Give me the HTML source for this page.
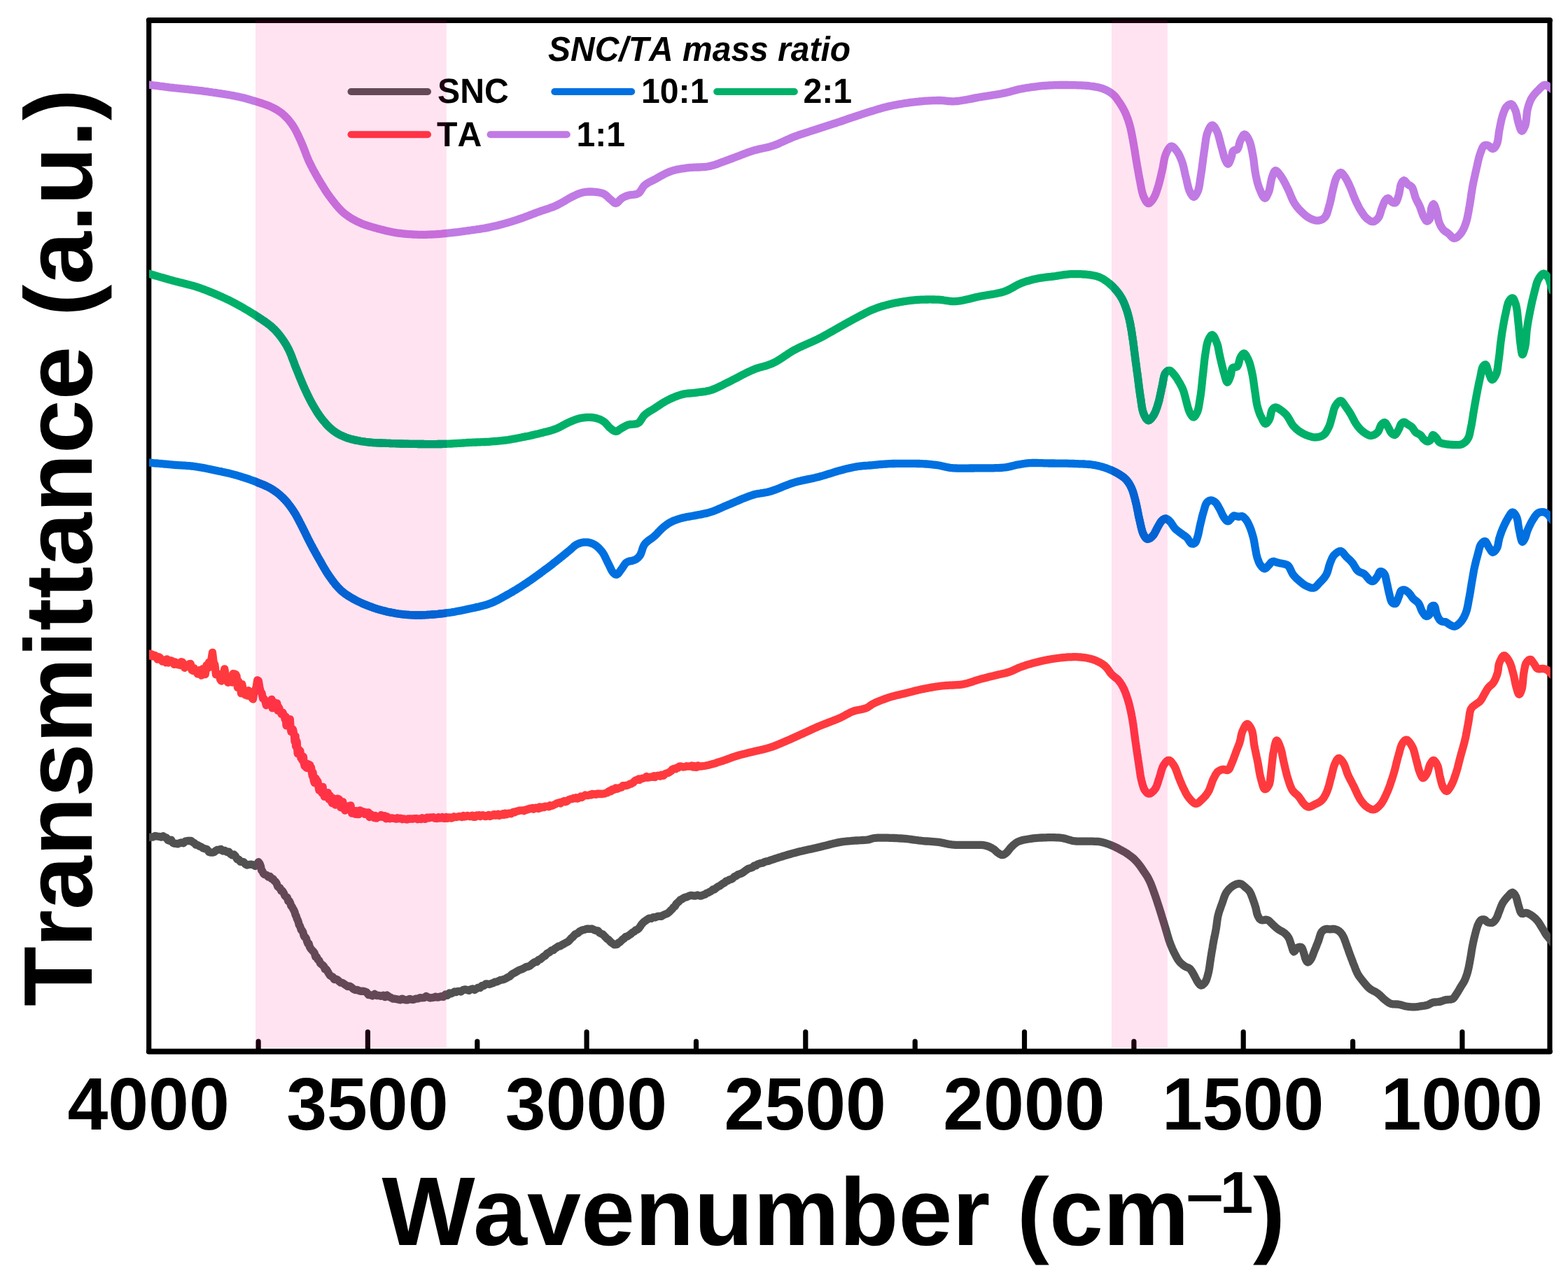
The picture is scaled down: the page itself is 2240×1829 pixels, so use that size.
<!DOCTYPE html>
<html lang="en"><head><meta charset="utf-8"><title>FTIR spectra</title>
<style>html,body{margin:0;padding:0;background:#fff}body{width:2240px;height:1829px;overflow:hidden}</style></head>
<body>
<svg width="2240" height="1829" viewBox="0 0 2240 1829" style="display:block">
<rect width="2240" height="1829" fill="#fff"/>
<defs><clipPath id="pc"><rect x="213.0" y="29.0" width="2001.9" height="1473.5"/></clipPath></defs>
<path d="M212.7 1502.5V29.0M2214.0 29.0V1502.5" fill="none" stroke="#000" stroke-width="7.2" stroke-linecap="round"/>
<path d="M212.7 29.0H2214.0M212.7 1502.5H2214.0" fill="none" stroke="#000" stroke-width="7.9" stroke-linecap="round"/>
<path d="M2088.9 1502.5 V1474.5M1932.6 1502.5 V1488.2M1776.2 1502.5 V1474.5M1619.9 1502.5 V1488.2M1463.5 1502.5 V1474.5M1307.2 1502.5 V1488.2M1150.8 1502.5 V1474.5M994.5 1502.5 V1488.2M838.1 1502.5 V1474.5M681.8 1502.5 V1488.2M525.4 1502.5 V1474.5M369.1 1502.5 V1488.2" stroke="#000" stroke-width="7.2" stroke-linecap="round" fill="none"/>
<g clip-path="url(#pc)" fill="none" stroke-linejoin="round" stroke-linecap="round" stroke-width="11.3">
<g stroke="#515151"><path id="c-gray" d="M205.0 1196.4L206.3 1196.8L209.4 1197.9L212.9 1196.3L215.5 1196.2L218.4 1196.1L221.6 1194.4L224.8 1195.1L227.8 1195.4L230.6 1196.2L233.1 1194.7L235.4 1196.4L237.7 1197.0L239.9 1200.6L242.3 1201.3L244.6 1200.2L246.9 1204.4L249.2 1205.4L251.6 1205.3L254.0 1205.9L256.4 1204.8L259.2 1204.0L262.1 1204.7L264.9 1202.0L267.8 1201.5L270.6 1201.5L273.0 1201.3L275.3 1203.5L277.6 1204.6L279.9 1207.2L282.2 1207.5L284.7 1209.1L287.3 1210.0L290.0 1211.9L292.9 1212.8L295.7 1213.7L298.5 1217.3L301.1 1218.2L303.5 1218.2L306.0 1217.6L308.3 1215.5L310.5 1214.4L312.9 1214.1L315.6 1213.5L318.4 1216.0L321.3 1215.4L324.2 1217.6L327.0 1217.2L329.5 1220.4L331.8 1221.8L334.2 1221.0L336.5 1223.6L338.8 1227.8L341.1 1228.1L343.5 1231.4L345.8 1231.2L348.1 1231.7L350.5 1234.8L352.9 1236.2L355.9 1235.3L359.1 1235.1L362.1 1235.9L364.6 1237.5L367.2 1234.9L369.3 1231.7L370.5 1233.2L371.5 1235.1L372.5 1238.0L373.6 1243.7L374.9 1244.8L376.4 1248.4L378.4 1249.8L380.8 1250.2L383.3 1253.1L385.8 1252.4L388.1 1255.7L389.9 1255.6L391.7 1258.5L393.4 1259.8L395.0 1262.1L396.7 1266.6L398.4 1268.2L400.0 1268.8L401.7 1272.9L403.5 1273.0L405.2 1275.9L406.9 1279.7L408.6 1281.4L410.2 1282.1L411.7 1287.4L413.2 1287.4L414.6 1290.2L415.9 1294.5L417.2 1295.7L418.5 1298.3L419.7 1300.4L421.0 1303.3L422.1 1307.4L423.1 1308.8L424.2 1312.6L425.2 1314.5L426.3 1317.5L427.3 1321.8L428.3 1322.9L429.4 1325.7L430.5 1329.2L431.6 1329.5L432.8 1331.8L434.0 1336.7L435.1 1338.8L436.3 1339.3L437.5 1341.4L438.7 1345.5L439.9 1348.4L441.2 1348.5L442.5 1353.2L443.8 1355.4L445.1 1356.8L446.5 1358.5L447.9 1359.8L449.3 1361.9L450.8 1367.3L452.4 1367.3L454.1 1371.2L455.7 1372.1L457.5 1376.3L459.2 1377.9L461.0 1379.2L462.7 1381.0L464.3 1384.9L466.0 1385.0L467.8 1387.7L469.5 1390.8L471.4 1393.8L473.3 1395.0L475.2 1395.7L477.4 1399.5L479.6 1398.9L481.9 1399.9L484.3 1402.2L486.7 1404.2L489.1 1404.3L491.6 1406.0L494.2 1407.8L496.8 1409.5L499.5 1409.1L502.2 1410.8L505.0 1413.4L507.7 1414.6L510.4 1414.5L513.1 1415.7L515.7 1416.4L518.4 1416.1L521.0 1416.8L523.7 1417.8L526.5 1421.6L529.3 1421.6L532.1 1423.0L535.1 1420.4L538.2 1422.6L541.2 1422.3L544.3 1423.3L547.3 1422.2L550.1 1424.6L552.8 1422.0L555.8 1424.2L558.6 1425.6L561.2 1427.0L563.9 1427.2L566.9 1427.7L569.3 1428.2L571.8 1428.8L574.4 1427.1L577.1 1428.2L579.8 1428.9L582.5 1428.8L585.3 1427.3L588.0 1428.3L590.9 1428.4L593.9 1427.1L596.9 1426.9L599.9 1425.7L602.9 1425.9L605.9 1425.6L608.8 1423.5L611.6 1425.0L614.4 1426.0L617.2 1425.6L619.9 1425.2L622.6 1424.1L625.2 1425.2L627.8 1424.5L630.4 1423.7L633.3 1424.4L636.3 1421.1L639.2 1422.3L642.0 1419.0L644.6 1419.8L646.9 1418.6L649.4 1416.9L651.5 1417.6L654.1 1416.3L656.2 1416.3L658.6 1417.0L661.3 1414.7L664.1 1413.8L667.0 1414.5L669.9 1415.4L672.7 1413.6L675.3 1412.9L678.0 1414.5L680.7 1412.8L683.3 1411.1L685.9 1411.5L688.5 1408.5L691.2 1408.5L694.0 1406.0L696.5 1406.0L699.1 1406.5L701.7 1405.5L704.3 1404.7L707.0 1403.2L709.7 1402.8L712.4 1401.6L715.0 1400.4L717.6 1400.0L720.3 1399.3L722.9 1398.0L725.5 1396.4L728.1 1395.3L730.7 1392.7L733.3 1390.9L735.9 1389.8L738.5 1388.1L741.1 1386.5L743.7 1385.5L746.3 1384.6L749.0 1383.1L751.6 1381.6L754.2 1381.2L756.8 1380.2L759.4 1378.0L762.0 1376.0L764.6 1374.5L767.0 1374.3L769.4 1371.4L771.7 1370.8L774.0 1368.9L776.4 1366.8L778.7 1365.8L781.0 1362.9L783.4 1361.4L785.7 1360.2L788.1 1357.9L790.5 1357.7L792.9 1355.3L795.4 1353.8L797.8 1352.2L800.3 1351.8L802.7 1350.1L805.1 1349.0L807.4 1347.7L809.6 1346.5L811.7 1345.3L813.9 1343.2L816.0 1340.6L818.0 1339.2L819.9 1337.0L821.8 1335.0L823.8 1334.1L825.8 1333.1L828.1 1330.9L830.4 1329.8L832.8 1328.8L835.2 1328.4L837.6 1327.4L839.9 1327.2L842.9 1327.4L845.9 1327.2L848.8 1328.7L851.6 1329.9L854.1 1329.9L856.5 1332.8L858.9 1334.2L861.2 1335.1L863.4 1337.4L865.4 1339.4L867.3 1341.6L869.2 1342.5L871.0 1344.5L872.8 1346.4L875.2 1348.1L877.5 1349.9L879.9 1349.7L881.7 1349.4L883.5 1347.3L885.4 1346.3L887.3 1344.5L889.3 1342.5L891.5 1341.0L893.9 1338.5L896.2 1338.0L898.6 1336.4L901.0 1334.8L903.4 1332.5L905.8 1331.3L908.2 1329.0L910.6 1328.3L912.8 1326.4L914.8 1323.5L916.5 1320.8L918.2 1319.0L920.1 1317.1L922.2 1315.6L924.7 1313.8L927.5 1312.1L930.4 1312.5L933.4 1310.6L936.3 1311.0L939.2 1309.3L942.1 1309.1L945.0 1309.3L947.8 1307.5L950.4 1306.4L952.5 1305.7L954.6 1304.4L956.5 1302.7L958.4 1300.6L960.3 1299.0L962.2 1296.4L964.1 1295.1L966.1 1291.6L968.0 1289.7L969.9 1288.1L971.8 1285.8L973.9 1285.0L976.1 1283.5L978.4 1282.3L980.7 1281.9L983.1 1280.7L985.7 1279.7L988.2 1279.4L990.9 1280.0L993.7 1280.1L996.5 1279.0L999.4 1280.0L1002.0 1280.0L1004.5 1278.8L1007.1 1278.1L1009.4 1276.4L1011.6 1275.7L1013.8 1274.3L1016.3 1273.1L1018.5 1270.9L1020.7 1271.0L1023.0 1268.8L1025.4 1267.1L1027.9 1266.1L1030.3 1264.2L1032.7 1262.5L1035.1 1261.4L1037.4 1259.0L1039.7 1258.5L1042.0 1257.0L1044.3 1256.5L1046.7 1255.2L1049.0 1252.8L1051.4 1251.8L1053.9 1249.9L1056.4 1249.0L1058.9 1248.1L1061.5 1246.8L1064.1 1244.6L1066.8 1242.8L1069.4 1241.1L1072.1 1240.4L1074.8 1239.5L1077.4 1237.0L1079.9 1237.0L1082.3 1234.8L1084.7 1234.1L1087.1 1233.3L1089.6 1233.2L1092.1 1231.7L1094.6 1230.9L1097.3 1230.5L1100.0 1229.4L1102.4 1228.6L1104.9 1227.8L1107.5 1226.9L1110.2 1226.1L1112.9 1225.2L1115.6 1224.4L1118.4 1223.5L1121.1 1222.7L1123.9 1221.8L1126.7 1221.0L1129.5 1220.2L1132.3 1219.4L1135.0 1218.7L1137.7 1218.0L1140.4 1217.3L1143.2 1216.6L1146.0 1216.0L1148.7 1215.3L1151.5 1214.7L1154.2 1214.1L1157.0 1213.5L1159.7 1212.9L1162.4 1212.3L1165.1 1211.7L1167.8 1211.1L1170.4 1210.5L1173.2 1209.8L1176.0 1209.1L1178.7 1208.4L1181.5 1207.7L1184.2 1207.0L1186.9 1206.3L1189.6 1205.6L1192.2 1205.0L1194.8 1204.4L1197.4 1203.9L1200.0 1203.4L1203.1 1202.9L1206.1 1202.5L1209.2 1202.2L1212.2 1201.9L1215.1 1201.7L1218.0 1201.4L1220.8 1201.2L1223.5 1201.0L1226.5 1200.8L1229.4 1200.7L1232.2 1200.5L1235.0 1200.4L1237.6 1200.2L1240.0 1199.9L1242.4 1199.4L1244.5 1198.7L1246.6 1198.0L1249.4 1197.5L1251.4 1197.3L1253.7 1197.2L1256.2 1197.1L1259.0 1197.1L1261.9 1197.1L1265.0 1197.1L1268.1 1197.2L1271.3 1197.3L1274.5 1197.4L1277.7 1197.5L1280.8 1197.7L1283.8 1197.9L1286.7 1198.0L1289.4 1198.2L1292.4 1198.4L1295.4 1198.7L1298.3 1199.0L1301.2 1199.4L1304.0 1199.8L1306.7 1200.2L1309.5 1200.5L1312.2 1200.9L1314.9 1201.2L1317.6 1201.5L1320.7 1201.8L1323.7 1202.0L1326.7 1202.2L1329.7 1202.4L1332.6 1202.6L1335.5 1202.8L1338.3 1203.1L1341.1 1203.4L1343.9 1203.8L1346.5 1204.4L1349.1 1204.9L1351.7 1205.5L1354.3 1206.1L1357.0 1206.5L1359.9 1206.9L1362.5 1207.1L1365.3 1207.3L1368.1 1207.3L1371.0 1207.4L1374.0 1207.4L1376.9 1207.4L1379.9 1207.4L1382.7 1207.3L1385.5 1207.4L1388.1 1207.4L1391.0 1207.4L1393.9 1207.4L1396.7 1207.3L1399.5 1207.3L1402.1 1207.4L1404.6 1207.6L1407.0 1208.0L1409.6 1208.7L1412.1 1209.5L1414.4 1210.5L1416.6 1211.6L1418.7 1212.8L1420.7 1214.2L1422.4 1215.8L1424.1 1217.4L1425.8 1218.7L1427.8 1220.1L1429.7 1221.2L1431.7 1221.7L1433.6 1221.3L1435.6 1220.1L1437.5 1218.7L1439.3 1216.9L1441.0 1214.8L1442.7 1212.5L1444.6 1210.4L1446.3 1208.8L1448.0 1207.1L1449.9 1205.6L1451.8 1204.1L1454.0 1202.9L1456.4 1201.9L1459.0 1201.0L1461.7 1200.3L1464.5 1199.7L1467.5 1199.2L1470.5 1198.7L1473.2 1198.3L1476.1 1197.9L1479.0 1197.6L1482.0 1197.4L1485.0 1197.2L1488.0 1197.0L1491.0 1196.9L1494.0 1196.8L1497.0 1196.7L1500.0 1196.7L1503.0 1196.7L1506.0 1196.7L1509.0 1196.8L1511.9 1196.9L1514.8 1197.2L1517.5 1197.5L1520.4 1198.1L1523.2 1198.8L1525.9 1199.6L1528.5 1200.4L1531.2 1201.2L1534.0 1201.7L1536.6 1202.0L1539.3 1202.1L1542.0 1202.2L1544.7 1202.2L1547.4 1202.2L1550.1 1202.2L1552.8 1202.2L1555.5 1202.2L1558.2 1202.2L1560.9 1202.2L1563.7 1202.3L1566.4 1202.3L1569.0 1202.5L1571.6 1202.9L1574.5 1203.5L1577.3 1204.2L1580.1 1205.1L1582.8 1206.0L1585.5 1207.0L1588.0 1208.0L1590.6 1209.1L1593.0 1210.2L1595.4 1211.4L1597.7 1212.6L1600.0 1213.9L1602.3 1215.1L1604.6 1216.4L1606.9 1217.7L1609.1 1219.0L1611.3 1220.5L1613.6 1222.2L1616.0 1224.0L1618.3 1225.8L1620.5 1227.8L1622.6 1229.9L1624.3 1231.8L1625.9 1233.7L1627.5 1235.7L1629.0 1237.8L1630.5 1239.9L1632.0 1242.1L1633.6 1244.5L1635.3 1246.9L1636.9 1249.3L1638.5 1251.8L1640.0 1254.4L1641.4 1257.1L1642.6 1259.6L1643.8 1262.2L1644.8 1264.9L1645.9 1267.6L1646.9 1270.4L1647.9 1273.2L1648.9 1276.0L1649.9 1278.7L1650.8 1281.4L1651.8 1284.2L1652.7 1287.0L1653.6 1289.9L1654.6 1292.8L1655.5 1295.6L1656.4 1298.5L1657.3 1301.2L1658.1 1303.9L1659.0 1306.6L1659.8 1309.3L1660.6 1312.0L1661.5 1314.8L1662.3 1317.5L1663.2 1320.3L1664.0 1323.0L1664.8 1325.7L1665.6 1328.5L1666.5 1331.4L1667.3 1334.2L1668.1 1337.0L1668.9 1339.7L1669.7 1342.4L1670.6 1345.0L1671.5 1347.5L1672.5 1350.1L1673.6 1352.7L1674.6 1355.3L1675.7 1357.7L1676.8 1360.1L1677.9 1362.3L1679.0 1364.4L1680.4 1367.0L1681.7 1369.5L1683.1 1371.7L1684.7 1373.8L1686.4 1375.7L1688.3 1377.4L1690.2 1379.0L1692.2 1380.4L1694.7 1381.7L1697.3 1382.7L1699.7 1384.1L1701.3 1385.9L1702.7 1388.0L1704.1 1390.3L1705.4 1392.6L1706.8 1395.2L1708.2 1398.0L1709.6 1400.7L1711.0 1403.0L1712.5 1405.2L1714.1 1407.1L1715.7 1408.0L1717.6 1407.5L1719.6 1405.9L1721.4 1403.9L1722.6 1401.9L1723.6 1399.4L1724.5 1396.7L1725.3 1393.7L1726.1 1390.7L1726.7 1388.2L1727.2 1385.5L1727.7 1382.7L1728.1 1379.8L1728.5 1376.9L1728.9 1373.9L1729.4 1371.0L1729.8 1368.1L1730.3 1365.3L1730.7 1362.4L1731.2 1359.6L1731.7 1356.7L1732.2 1353.9L1732.6 1351.1L1733.1 1348.3L1733.6 1345.6L1734.1 1342.8L1734.7 1340.1L1735.2 1337.4L1735.8 1334.8L1736.3 1332.1L1736.8 1329.5L1737.3 1326.8L1737.7 1324.1L1738.1 1321.4L1738.4 1318.6L1738.8 1315.9L1739.2 1313.2L1739.6 1310.5L1740.2 1307.9L1741.0 1305.0L1741.8 1302.1L1742.8 1299.3L1743.8 1296.5L1744.8 1293.7L1745.8 1291.0L1746.7 1288.4L1747.6 1285.7L1748.4 1283.1L1749.4 1280.5L1750.4 1278.1L1751.5 1276.0L1753.0 1273.8L1754.5 1271.8L1756.2 1270.0L1758.0 1268.4L1760.4 1266.5L1763.0 1264.9L1765.6 1263.7L1767.8 1263.0L1770.0 1262.6L1772.2 1262.8L1774.4 1263.9L1776.6 1265.6L1778.7 1267.5L1780.4 1269.0L1782.2 1270.5L1783.8 1272.2L1785.3 1274.1L1786.4 1276.1L1787.4 1278.3L1788.3 1280.7L1789.2 1283.1L1790.0 1285.4L1791.0 1288.2L1792.0 1291.0L1792.9 1293.9L1793.8 1296.7L1794.5 1299.6L1795.1 1302.5L1795.7 1305.4L1796.6 1307.9L1797.9 1310.5L1799.4 1312.9L1801.3 1314.5L1803.4 1314.9L1805.8 1314.6L1808.4 1314.2L1810.7 1314.5L1812.7 1315.7L1814.6 1317.4L1816.4 1319.3L1818.2 1321.1L1820.1 1322.8L1821.9 1324.5L1823.8 1326.1L1825.8 1327.7L1828.1 1329.1L1830.6 1330.5L1833.0 1331.8L1835.2 1333.3L1837.3 1335.3L1839.2 1337.5L1840.8 1339.9L1842.0 1342.3L1842.9 1345.0L1843.8 1347.8L1844.7 1350.5L1845.6 1353.3L1846.5 1356.3L1847.4 1358.8L1848.5 1359.9L1849.9 1358.8L1851.5 1356.3L1853.2 1354.3L1856.1 1353.1L1858.8 1353.3L1860.0 1354.6L1861.0 1356.8L1861.8 1359.4L1862.6 1361.8L1863.3 1364.2L1864.0 1366.7L1864.6 1369.2L1865.4 1371.2L1866.7 1373.7L1868.2 1375.0L1869.7 1374.3L1871.4 1372.5L1872.9 1370.3L1874.0 1368.4L1874.9 1366.2L1875.8 1363.9L1876.7 1361.4L1877.6 1359.0L1878.5 1356.7L1879.5 1354.4L1880.5 1352.0L1881.4 1349.6L1882.4 1347.2L1883.3 1344.9L1884.2 1342.1L1885.1 1339.2L1885.9 1336.3L1886.8 1333.8L1888.0 1331.7L1889.7 1329.9L1891.6 1328.5L1893.6 1327.6L1895.7 1327.4L1898.0 1327.7L1900.2 1327.9L1902.4 1327.7L1904.6 1327.5L1906.8 1327.6L1909.1 1328.3L1911.3 1329.4L1913.4 1330.8L1915.0 1332.3L1916.4 1334.1L1917.8 1336.1L1919.0 1338.3L1920.1 1340.5L1921.0 1342.9L1921.9 1345.4L1922.8 1348.0L1923.7 1350.5L1924.6 1353.1L1925.6 1355.7L1926.5 1358.3L1927.4 1361.0L1928.4 1363.7L1929.3 1366.2L1930.2 1368.7L1931.2 1371.2L1932.2 1373.7L1933.1 1376.3L1934.1 1378.7L1935.2 1381.4L1936.2 1384.2L1937.3 1386.8L1938.4 1389.4L1939.7 1391.9L1941.0 1394.1L1942.5 1396.2L1944.0 1398.3L1945.6 1400.3L1947.2 1402.3L1949.0 1404.5L1950.8 1406.6L1952.7 1408.8L1954.6 1410.8L1956.7 1412.6L1958.8 1414.1L1961.1 1415.4L1963.4 1416.6L1965.7 1417.8L1967.9 1419.2L1969.9 1420.8L1971.8 1422.5L1973.6 1424.3L1975.4 1426.1L1977.3 1427.7L1979.6 1429.6L1981.9 1431.4L1984.3 1433.0L1986.8 1434.2L1989.5 1434.8L1992.3 1434.9L1995.2 1435.0L1998.0 1435.2L2000.8 1435.8L2003.6 1436.6L2006.5 1437.4L2009.3 1438.0L2012.1 1438.4L2014.9 1438.7L2017.8 1438.9L2020.6 1438.9L2023.5 1438.7L2026.4 1438.3L2029.2 1437.8L2031.9 1437.4L2034.5 1437.1L2037.0 1436.7L2039.4 1436.1L2041.9 1434.9L2044.4 1433.5L2047.0 1432.4L2049.3 1432.0L2051.6 1431.8L2054.0 1431.7L2056.4 1431.4L2058.8 1430.8L2061.1 1430.0L2063.4 1429.2L2065.8 1428.6L2068.2 1428.3L2070.7 1428.2L2073.1 1428.0L2075.2 1427.3L2076.9 1425.9L2078.2 1424.1L2079.5 1422.1L2080.8 1420.1L2082.3 1417.9L2083.7 1415.5L2085.1 1413.1L2086.5 1410.7L2087.9 1408.4L2089.4 1406.1L2090.8 1403.8L2092.1 1401.3L2093.2 1398.9L2094.2 1396.3L2095.1 1393.7L2096.0 1391.0L2096.8 1388.1L2097.4 1385.6L2098.0 1383.0L2098.6 1380.2L2099.1 1377.5L2099.6 1374.7L2100.1 1372.0L2100.6 1369.3L2101.1 1366.4L2101.6 1363.6L2102.0 1360.8L2102.4 1358.0L2102.9 1355.2L2103.4 1352.4L2104.0 1349.6L2104.6 1346.7L2105.2 1343.9L2105.8 1341.0L2106.5 1338.3L2107.2 1335.5L2107.9 1332.8L2108.6 1330.1L2109.4 1327.4L2110.2 1324.8L2111.0 1322.4L2111.9 1320.4L2113.0 1318.1L2114.2 1316.2L2115.6 1314.8L2117.9 1313.8L2120.3 1313.8L2121.9 1314.8L2123.3 1316.4L2125.0 1317.6L2127.1 1318.3L2129.4 1318.7L2131.6 1318.5L2133.7 1317.3L2135.6 1315.3L2137.3 1312.9L2138.4 1310.9L2139.4 1308.7L2140.2 1306.4L2141.1 1303.9L2142.0 1301.6L2142.9 1299.3L2143.7 1297.0L2144.6 1294.7L2145.6 1292.4L2146.7 1290.3L2148.0 1288.3L2149.5 1286.3L2151.0 1284.4L2152.6 1282.6L2154.2 1280.9L2156.4 1278.4L2158.7 1276.2L2160.8 1275.3L2162.5 1276.3L2164.1 1278.4L2165.5 1280.9L2166.4 1283.2L2167.2 1285.8L2167.8 1288.6L2168.5 1291.4L2169.3 1294.1L2170.1 1296.7L2170.9 1299.4L2171.7 1302.0L2172.7 1304.1L2174.0 1305.4L2176.0 1305.5L2178.2 1304.7L2180.5 1304.4L2183.0 1305.2L2185.6 1306.6L2188.1 1308.2L2190.1 1309.6L2192.0 1311.2L2193.8 1312.9L2195.6 1314.8L2197.2 1316.8L2198.8 1319.1L2200.3 1321.5L2201.7 1323.8L2203.1 1326.1L2204.6 1328.5L2206.0 1330.9L2207.3 1333.3L2208.8 1335.5L2210.3 1337.5L2211.8 1339.3L2213.3 1341.2L2214.8 1343.0L2217.0 1345.9L2219.1 1348.7L2220.0 1350.0"/></g>
<g stroke="#ff3a3e"><path id="c-red" d="M205.0 932.9L205.5 932.1L206.8 935.5L208.7 932.5L210.8 936.0L212.9 935.6L214.1 934.1L215.5 937.3L216.9 934.9L218.5 937.8L220.0 936.1L221.7 936.7L223.4 939.3L225.1 942.2L226.8 938.6L228.5 939.7L230.3 942.7L232.0 945.2L233.7 943.5L235.3 942.9L237.0 946.9L238.6 941.8L240.3 947.1L242.0 944.2L243.7 943.8L245.3 944.2L247.0 945.8L248.7 949.3L250.4 946.0L252.1 948.9L253.8 949.7L255.4 948.0L257.1 950.5L258.8 945.7L260.5 946.2L262.2 948.5L263.9 954.3L265.5 952.0L267.2 950.4L268.9 951.6L270.6 948.7L272.3 948.5L274.0 957.4L275.6 958.6L277.3 954.7L279.0 958.9L280.6 958.9L282.3 963.1L284.1 961.9L285.9 957.3L287.7 965.1L289.6 955.7L291.4 958.4L293.2 963.7L295.0 950.6L296.8 954.9L298.5 946.3L300.2 952.7L301.9 942.5L303.5 932.3L305.2 946.5L306.9 949.9L308.5 963.9L310.0 964.3L311.5 964.8L313.1 963.2L314.6 970.7L316.1 973.1L317.6 965.1L319.2 968.2L320.8 955.8L322.4 965.7L324.0 965.8L325.5 975.3L327.1 975.0L328.6 967.0L330.2 969.7L331.7 975.0L333.0 962.6L334.3 969.1L335.6 963.1L336.9 963.8L338.1 966.2L339.4 982.4L340.6 973.4L341.9 977.2L343.2 981.0L344.5 990.7L345.8 977.5L347.3 985.0L348.9 987.7L350.4 993.0L352.0 992.9L353.6 994.2L355.2 986.7L356.7 989.3L358.3 989.3L359.9 997.4L361.5 999.1L363.0 988.2L364.6 986.9L366.2 981.4L367.7 971.9L369.3 972.6L370.9 982.3L372.4 988.3L374.0 990.4L375.6 998.2L377.2 998.4L378.8 1001.8L380.4 1007.9L382.0 1004.9L383.5 1003.2L385.1 1005.5L386.6 1007.2L388.0 999.4L389.2 1011.9L390.4 1010.4L391.5 1011.3L392.6 1009.7L393.7 1004.2L394.8 1006.0L395.8 1004.8L396.9 1015.3L397.9 1010.0L398.9 1012.2L400.0 1015.8L401.0 1016.5L402.0 1020.4L403.0 1017.7L404.1 1018.3L405.1 1021.7L406.1 1022.4L407.0 1027.4L408.0 1023.9L409.0 1036.9L409.9 1033.9L410.8 1027.4L411.7 1028.5L412.6 1029.4L413.4 1029.8L414.3 1027.7L415.1 1040.4L416.0 1045.7L416.8 1041.7L417.6 1045.0L418.3 1041.9L419.0 1044.3L419.7 1049.5L420.4 1050.1L421.0 1059.6L421.6 1051.9L422.1 1051.7L422.6 1066.4L423.0 1062.1L423.4 1058.5L423.8 1065.7L424.2 1060.2L424.6 1068.8L425.2 1076.8L425.8 1076.8L426.5 1076.0L427.2 1071.4L428.0 1074.4L428.9 1073.0L429.8 1083.0L430.7 1081.1L431.6 1086.0L432.5 1081.2L433.4 1081.2L434.3 1090.9L435.2 1094.8L436.1 1094.4L436.9 1095.3L437.8 1097.0L438.6 1097.4L439.5 1091.7L440.3 1097.2L441.2 1096.2L442.0 1092.6L442.9 1093.3L443.7 1097.2L444.6 1097.2L445.4 1104.0L446.3 1109.1L447.1 1104.0L447.9 1113.4L448.7 1116.8L449.5 1118.8L450.4 1112.7L451.2 1112.5L452.1 1114.3L453.0 1115.3L454.0 1116.9L455.0 1124.1L455.9 1129.3L456.9 1129.8L457.9 1126.1L459.0 1129.9L460.0 1133.2L461.1 1124.4L462.2 1133.7L463.4 1138.4L464.6 1137.8L465.8 1138.5L467.1 1135.8L468.5 1132.7L469.9 1142.3L471.4 1136.9L472.9 1144.4L474.4 1147.7L475.9 1140.6L477.5 1141.5L479.1 1150.1L480.6 1147.9L482.2 1141.2L483.7 1141.6L485.2 1142.9L486.7 1153.8L488.2 1153.4L489.8 1145.8L491.3 1155.4L492.9 1158.1L494.4 1155.0L496.0 1152.1L497.7 1155.3L499.3 1151.3L501.0 1150.8L502.6 1162.2L504.2 1159.2L505.8 1158.4L507.4 1163.3L509.1 1158.6L510.8 1163.5L512.5 1163.5L514.2 1157.9L515.9 1158.9L517.7 1159.8L519.4 1159.8L521.1 1163.3L522.8 1160.9L524.5 1162.7L526.2 1160.8L527.8 1167.5L529.5 1163.4L531.1 1164.6L532.8 1165.9L534.4 1168.6L536.1 1165.5L537.7 1169.2L539.4 1166.7L541.1 1167.2L542.8 1167.4L544.5 1164.6L546.2 1167.4L548.0 1166.3L549.7 1165.6L551.4 1169.9L553.2 1167.0L554.9 1168.7L556.7 1169.9L558.5 1169.3L560.3 1168.8L562.1 1169.4L563.9 1169.6L565.7 1170.3L567.5 1168.7L569.3 1169.9L571.1 1169.2L572.9 1169.3L574.6 1170.7L576.3 1170.0L578.0 1170.2L579.7 1170.7L581.4 1171.1L583.1 1169.9L584.7 1170.3L586.3 1169.9L587.9 1169.9L589.6 1170.3L591.2 1169.6L592.9 1169.7L594.6 1169.5L596.3 1170.7L598.1 1170.0L600.0 1170.4L601.6 1170.5L603.2 1168.7L604.9 1169.4L606.6 1170.4L608.3 1170.1L610.0 1168.2L611.8 1168.1L613.5 1168.9L615.3 1167.9L617.1 1168.2L619.0 1167.7L620.8 1169.2L622.7 1169.5L624.5 1169.7L626.4 1167.7L628.2 1169.1L630.1 1168.9L632.0 1167.5L633.9 1169.3L635.7 1169.5L637.6 1167.5L639.3 1169.3L641.1 1167.8L642.9 1167.9L644.8 1169.1L646.6 1168.6L648.5 1166.8L650.4 1167.4L652.3 1167.5L654.3 1167.0L656.2 1166.5L658.1 1166.7L660.0 1167.6L661.9 1165.7L663.8 1167.0L665.7 1166.6L667.5 1165.4L669.4 1166.1L671.2 1166.8L672.9 1166.4L674.6 1165.1L676.3 1167.4L677.9 1166.9L679.4 1167.3L680.9 1164.9L682.3 1165.3L684.4 1164.6L686.3 1166.5L688.1 1165.1L689.8 1164.7L691.5 1165.4L693.1 1166.7L694.8 1166.4L696.4 1164.9L698.2 1164.5L700.0 1166.4L701.6 1165.4L703.2 1165.6L704.8 1163.9L706.5 1163.7L708.2 1165.2L709.9 1164.4L711.6 1163.3L713.3 1165.4L715.0 1164.4L716.7 1164.7L718.4 1162.6L720.1 1164.4L721.8 1162.1L723.5 1163.9L725.2 1162.6L726.9 1162.0L728.5 1162.3L730.2 1162.9L731.9 1160.9L733.6 1160.2L735.3 1160.8L736.9 1159.7L738.6 1159.0L740.3 1158.8L742.0 1158.2L743.6 1158.2L745.3 1158.1L747.0 1157.8L748.7 1158.7L750.4 1157.1L752.1 1157.4L753.7 1156.2L755.4 1156.4L757.1 1155.2L758.8 1155.5L760.5 1154.6L762.2 1156.2L763.9 1155.4L765.6 1154.1L767.2 1154.6L768.9 1155.4L770.6 1153.0L772.3 1154.5L774.0 1153.2L775.6 1153.1L777.3 1153.6L779.0 1152.2L780.7 1152.2L782.3 1152.3L784.0 1152.8L785.7 1150.8L787.3 1151.7L789.0 1151.0L790.7 1150.5L792.3 1149.5L794.0 1148.9L795.7 1147.7L797.4 1147.4L799.1 1146.7L800.8 1147.9L802.4 1146.1L804.1 1145.3L805.8 1144.5L807.5 1145.9L809.2 1145.4L810.8 1144.3L812.5 1142.8L814.2 1142.1L815.9 1141.7L817.6 1141.7L819.3 1140.5L821.0 1140.8L822.7 1139.8L824.4 1141.2L826.1 1140.8L827.8 1139.3L829.5 1138.1L831.2 1139.6L832.9 1137.5L834.6 1137.3L836.2 1136.0L837.9 1136.7L839.5 1136.6L841.1 1136.4L842.9 1135.4L844.7 1136.0L846.4 1134.5L848.1 1135.1L849.9 1134.6L851.6 1135.3L853.3 1134.2L855.0 1134.0L856.6 1134.6L858.3 1134.1L859.9 1134.7L861.6 1134.1L863.3 1134.2L864.9 1133.4L866.5 1132.9L868.1 1132.6L869.7 1130.7L871.3 1129.8L872.9 1130.8L874.6 1128.0L876.4 1128.8L878.0 1128.0L879.6 1125.9L881.2 1127.4L882.9 1126.9L884.6 1125.7L886.3 1125.4L888.1 1125.0L889.8 1122.6L891.5 1123.0L893.3 1122.4L895.0 1122.6L896.7 1121.9L898.3 1121.4L899.9 1120.1L901.5 1120.2L903.1 1119.0L904.7 1118.3L906.2 1116.3L907.7 1115.1L909.2 1114.6L910.7 1114.4L912.2 1113.1L913.8 1114.3L915.4 1112.9L917.0 1112.5L918.7 1112.0L920.3 1111.8L921.9 1111.0L923.6 1109.4L925.3 1111.3L927.0 1111.0L928.8 1110.2L930.5 1110.2L932.3 1110.4L934.1 1108.7L935.9 1110.3L937.6 1108.9L939.4 1108.2L941.2 1108.4L942.9 1109.2L944.6 1107.4L946.2 1108.3L947.9 1108.3L949.5 1106.4L951.0 1105.3L952.6 1104.8L954.2 1104.4L955.7 1103.8L957.3 1102.5L958.9 1101.7L960.4 1099.4L962.0 1098.7L963.7 1098.2L965.3 1098.8L967.0 1097.0L968.7 1097.1L970.5 1095.1L972.1 1094.9L973.8 1095.2L975.5 1096.0L977.2 1095.9L979.0 1095.7L980.8 1094.6L982.6 1095.1L984.5 1095.0L986.3 1095.0L988.1 1094.1L990.0 1096.1L991.8 1094.4L993.7 1096.4L995.5 1096.3L997.3 1093.9L999.0 1095.0L1000.8 1095.0L1002.5 1094.9L1004.1 1094.7L1005.7 1094.5L1007.5 1094.2L1009.3 1093.8L1011.1 1093.5L1012.8 1093.1L1014.5 1092.6L1016.2 1092.2L1017.8 1091.7L1019.5 1091.3L1021.1 1090.8L1022.7 1090.3L1024.4 1089.7L1026.0 1089.2L1027.6 1088.7L1029.3 1088.2L1031.0 1087.7L1032.7 1087.1L1034.4 1086.5L1036.0 1085.9L1037.7 1085.3L1039.4 1084.7L1041.1 1084.1L1042.7 1083.5L1044.4 1082.8L1046.1 1082.2L1047.7 1081.6L1049.4 1081.1L1051.1 1080.5L1052.8 1080.0L1054.5 1079.5L1056.1 1079.0L1057.8 1078.6L1059.5 1078.1L1061.2 1077.7L1062.8 1077.3L1064.5 1076.9L1066.2 1076.4L1067.9 1076.0L1069.6 1075.6L1071.3 1075.2L1072.9 1074.8L1074.6 1074.4L1076.3 1074.0L1078.0 1073.6L1079.7 1073.2L1081.3 1072.8L1083.0 1072.4L1084.7 1072.1L1086.4 1071.7L1088.1 1071.3L1089.8 1070.9L1091.4 1070.5L1093.1 1070.1L1094.8 1069.7L1096.5 1069.2L1098.1 1068.7L1099.8 1068.2L1101.4 1067.7L1103.0 1067.1L1104.5 1066.6L1106.1 1066.0L1107.7 1065.4L1109.2 1064.7L1110.8 1064.1L1112.4 1063.5L1113.9 1062.8L1115.5 1062.1L1117.1 1061.5L1118.6 1060.8L1120.2 1060.1L1121.7 1059.5L1123.3 1058.8L1124.9 1058.1L1126.5 1057.4L1128.0 1056.8L1129.6 1056.1L1131.2 1055.3L1132.8 1054.6L1134.3 1053.9L1135.9 1053.2L1137.5 1052.5L1139.0 1051.8L1140.6 1051.1L1142.2 1050.3L1143.8 1049.6L1145.3 1048.9L1146.9 1048.2L1148.5 1047.5L1150.0 1046.8L1151.6 1046.1L1153.1 1045.4L1154.6 1044.7L1156.2 1044.0L1157.7 1043.3L1159.2 1042.5L1160.8 1041.8L1162.3 1041.1L1163.9 1040.4L1165.5 1039.7L1167.1 1039.0L1168.7 1038.3L1170.4 1037.6L1172.0 1036.9L1173.6 1036.3L1175.2 1035.6L1176.9 1035.0L1178.6 1034.3L1180.3 1033.7L1182.0 1033.0L1183.7 1032.3L1185.4 1031.7L1187.1 1031.0L1188.8 1030.4L1190.5 1029.7L1192.2 1029.1L1193.8 1028.4L1195.4 1027.8L1197.0 1027.1L1198.5 1026.4L1200.0 1025.8L1201.7 1025.0L1203.4 1024.2L1205.0 1023.3L1206.6 1022.5L1208.1 1021.6L1209.6 1020.8L1211.1 1020.0L1212.6 1019.2L1214.2 1018.4L1215.7 1017.7L1217.2 1017.0L1218.8 1016.4L1220.5 1015.8L1222.3 1015.3L1224.1 1014.9L1225.9 1014.5L1227.7 1014.2L1229.5 1013.8L1231.3 1013.5L1233.0 1013.1L1234.6 1012.7L1236.2 1012.2L1237.6 1011.7L1239.1 1011.0L1240.4 1010.2L1241.7 1009.3L1242.8 1008.5L1244.1 1007.6L1245.4 1006.7L1247.0 1005.8L1248.2 1005.2L1249.6 1004.5L1251.0 1003.9L1252.5 1003.2L1254.0 1002.6L1255.6 1001.9L1257.2 1001.3L1258.9 1000.6L1260.6 999.9L1262.3 999.3L1264.0 998.7L1265.7 998.1L1267.3 997.5L1269.0 996.9L1270.6 996.4L1272.3 995.9L1273.9 995.4L1275.6 994.9L1277.3 994.5L1278.9 994.1L1280.6 993.6L1282.3 993.2L1283.9 992.9L1285.6 992.5L1287.3 992.1L1289.0 991.7L1290.6 991.3L1292.3 990.9L1294.0 990.5L1295.7 990.1L1297.3 989.7L1299.0 989.2L1300.7 988.8L1302.3 988.4L1304.0 987.9L1305.6 987.5L1307.3 987.1L1309.0 986.7L1310.7 986.3L1312.4 985.8L1314.1 985.5L1315.8 985.1L1317.6 984.7L1319.3 984.4L1321.0 984.0L1322.7 983.7L1324.4 983.4L1326.2 983.0L1327.9 982.7L1329.7 982.4L1331.4 982.1L1333.2 981.8L1335.0 981.5L1336.8 981.2L1338.6 981.0L1340.4 980.7L1342.2 980.5L1344.0 980.2L1345.8 980.0L1347.5 979.8L1349.2 979.7L1350.9 979.5L1352.6 979.4L1354.3 979.3L1356.1 979.2L1357.8 979.1L1359.6 979.1L1361.3 979.0L1363.0 978.9L1364.8 978.8L1366.5 978.7L1368.2 978.6L1369.9 978.5L1371.5 978.3L1373.2 978.1L1374.8 977.9L1376.4 977.6L1378.2 977.2L1379.9 976.8L1381.7 976.4L1383.4 975.9L1385.1 975.4L1386.7 974.9L1388.4 974.3L1390.0 973.8L1391.6 973.2L1393.3 972.7L1394.9 972.1L1396.6 971.6L1398.2 971.1L1399.9 970.6L1401.6 970.1L1403.3 969.7L1405.0 969.3L1406.7 968.8L1408.4 968.4L1410.1 968.0L1411.8 967.5L1413.5 967.1L1415.2 966.7L1416.9 966.3L1418.5 965.9L1420.2 965.5L1421.8 965.1L1423.4 964.7L1425.2 964.3L1427.0 963.8L1428.7 963.5L1430.5 963.1L1432.2 962.7L1433.9 962.3L1435.6 961.9L1437.3 961.5L1438.9 961.0L1440.6 960.5L1442.2 960.0L1443.9 959.4L1445.5 958.7L1447.2 958.0L1448.8 957.3L1450.3 956.5L1451.9 955.8L1453.6 955.0L1455.2 954.3L1456.9 953.6L1458.7 952.9L1460.2 952.4L1461.8 951.8L1463.4 951.3L1465.1 950.7L1466.7 950.2L1468.4 949.7L1470.1 949.2L1471.9 948.7L1473.6 948.2L1475.3 947.7L1477.1 947.2L1478.8 946.8L1480.5 946.3L1482.2 945.9L1483.9 945.5L1485.5 945.1L1487.2 944.7L1488.9 944.3L1490.6 944.0L1492.2 943.6L1493.9 943.3L1495.6 942.9L1497.3 942.6L1499.0 942.3L1500.6 942.0L1502.3 941.7L1504.0 941.5L1505.7 941.2L1507.4 941.0L1509.1 940.7L1510.8 940.5L1512.5 940.3L1514.2 940.0L1515.9 939.8L1517.7 939.6L1519.4 939.5L1521.1 939.3L1522.7 939.2L1524.4 939.0L1526.1 938.9L1527.7 938.9L1529.3 938.8L1531.1 938.8L1532.8 938.7L1534.6 938.7L1536.3 938.7L1538.0 938.7L1539.7 938.8L1541.4 938.9L1543.1 939.0L1544.7 939.1L1546.4 939.3L1548.0 939.5L1549.7 939.7L1551.4 940.0L1553.1 940.3L1554.8 940.7L1556.5 941.0L1558.1 941.4L1559.7 941.9L1561.4 942.4L1562.9 942.9L1564.5 943.5L1566.0 944.1L1567.5 944.8L1569.0 945.5L1570.5 946.3L1572.0 947.1L1573.4 947.9L1574.8 948.8L1576.1 949.7L1577.4 950.7L1578.6 951.7L1579.8 952.9L1580.9 954.1L1582.0 955.5L1583.0 956.8L1584.0 958.2L1584.9 959.6L1585.9 961.0L1586.9 962.3L1588.0 963.5L1589.3 964.8L1590.7 966.0L1592.1 967.1L1593.5 968.2L1594.9 969.3L1596.2 970.4L1597.4 971.7L1598.4 972.9L1599.4 974.1L1600.3 975.3L1601.2 976.6L1602.0 977.9L1602.9 979.3L1603.7 980.8L1604.5 982.3L1605.2 983.6L1605.8 985.0L1606.5 986.5L1607.1 988.0L1607.7 989.5L1608.3 991.1L1608.9 992.7L1609.4 994.3L1610.0 996.0L1610.5 997.7L1611.1 999.4L1611.6 1001.1L1612.1 1002.7L1612.5 1004.3L1613.0 1006.0L1613.4 1007.6L1613.8 1009.3L1614.2 1011.0L1614.6 1012.8L1615.0 1014.5L1615.4 1016.3L1615.8 1018.1L1616.1 1019.9L1616.5 1021.6L1616.8 1023.4L1617.2 1025.2L1617.5 1027.0L1617.8 1028.7L1618.1 1030.3L1618.3 1032.0L1618.6 1033.7L1618.9 1035.3L1619.1 1037.0L1619.3 1038.7L1619.6 1040.4L1619.8 1042.1L1620.0 1043.9L1620.2 1045.6L1620.4 1047.3L1620.7 1049.0L1620.9 1050.8L1621.1 1052.5L1621.4 1054.3L1621.6 1056.0L1621.8 1057.7L1622.1 1059.3L1622.3 1061.0L1622.6 1062.7L1622.8 1064.4L1623.0 1066.1L1623.3 1067.8L1623.5 1069.5L1623.8 1071.2L1624.0 1072.9L1624.3 1074.6L1624.5 1076.4L1624.8 1078.1L1625.0 1079.8L1625.3 1081.4L1625.5 1083.1L1625.8 1084.8L1626.0 1086.5L1626.3 1088.1L1626.6 1089.9L1626.9 1091.8L1627.1 1093.7L1627.4 1095.6L1627.7 1097.5L1627.9 1099.3L1628.2 1101.2L1628.5 1103.1L1628.8 1104.9L1629.0 1106.7L1629.3 1108.4L1629.6 1110.2L1630.0 1111.8L1630.3 1113.4L1630.6 1114.9L1631.0 1116.4L1631.5 1118.3L1632.0 1120.2L1632.5 1122.0L1633.1 1123.8L1633.6 1125.4L1634.2 1126.9L1634.9 1128.3L1635.7 1129.5L1636.7 1130.8L1637.8 1132.1L1638.9 1133.2L1640.2 1133.9L1641.4 1134.2L1642.7 1134.0L1644.2 1133.2L1645.7 1132.1L1647.2 1130.8L1648.6 1129.3L1649.9 1127.7L1650.7 1126.5L1651.4 1125.2L1652.1 1123.8L1652.7 1122.2L1653.2 1120.6L1653.8 1119.0L1654.3 1117.3L1654.8 1115.6L1655.3 1113.9L1655.9 1112.3L1656.4 1110.7L1657.0 1109.0L1657.5 1107.2L1658.0 1105.4L1658.5 1103.6L1659.0 1101.7L1659.5 1100.0L1660.1 1098.3L1660.7 1096.7L1661.3 1095.2L1662.1 1093.8L1663.2 1092.1L1664.4 1090.4L1665.7 1088.8L1667.0 1087.5L1668.3 1086.6L1669.6 1086.3L1670.9 1086.6L1672.2 1087.5L1673.5 1088.8L1674.7 1090.4L1675.9 1092.1L1677.1 1093.8L1677.8 1095.0L1678.6 1096.4L1679.2 1097.9L1679.9 1099.4L1680.5 1101.0L1681.1 1102.7L1681.7 1104.4L1682.3 1106.1L1682.9 1107.8L1683.5 1109.5L1684.1 1111.1L1684.7 1112.6L1685.4 1114.2L1686.0 1115.8L1686.7 1117.3L1687.3 1118.9L1688.0 1120.4L1688.6 1121.9L1689.3 1123.4L1689.9 1124.9L1690.6 1126.3L1691.3 1127.7L1692.1 1129.2L1692.8 1130.7L1693.5 1132.2L1694.3 1133.6L1695.1 1135.0L1695.9 1136.4L1696.8 1137.7L1697.8 1139.0L1698.9 1140.4L1700.1 1141.9L1701.4 1143.5L1702.8 1144.9L1704.2 1146.2L1705.5 1147.3L1706.9 1148.1L1708.2 1148.4L1709.6 1148.2L1711.1 1147.6L1712.5 1146.6L1713.9 1145.3L1715.3 1144.0L1716.7 1142.7L1717.8 1141.7L1718.9 1140.6L1720.0 1139.5L1721.1 1138.3L1722.2 1137.0L1723.2 1135.7L1724.2 1134.3L1725.2 1132.9L1726.1 1131.4L1726.9 1130.0L1727.6 1128.5L1728.2 1127.0L1728.8 1125.3L1729.4 1123.7L1730.0 1122.0L1730.6 1120.3L1731.2 1118.6L1731.7 1117.0L1732.3 1115.4L1732.9 1114.0L1733.6 1112.6L1734.5 1110.9L1735.4 1109.2L1736.2 1107.5L1737.1 1106.0L1738.1 1104.6L1739.1 1103.3L1740.2 1102.3L1741.6 1101.3L1743.1 1100.6L1744.6 1100.0L1746.2 1099.6L1747.7 1099.4L1749.4 1099.6L1751.1 1100.2L1752.8 1100.6L1754.3 1100.4L1755.3 1099.6L1756.2 1098.5L1757.0 1097.0L1757.7 1095.3L1758.5 1093.5L1759.2 1091.7L1759.9 1090.0L1760.6 1088.5L1761.2 1086.9L1761.9 1085.2L1762.5 1083.5L1763.1 1081.8L1763.7 1080.1L1764.4 1078.4L1765.0 1076.7L1765.6 1075.0L1766.2 1073.3L1766.9 1071.7L1767.5 1070.0L1768.2 1068.3L1768.8 1066.6L1769.5 1065.0L1770.1 1063.3L1770.7 1061.6L1771.2 1059.9L1771.7 1058.2L1772.1 1056.5L1772.4 1054.8L1772.8 1053.1L1773.1 1051.3L1773.5 1049.6L1773.9 1048.0L1774.4 1046.4L1775.0 1044.9L1775.8 1043.1L1776.7 1041.1L1777.6 1039.2L1778.6 1037.4L1779.6 1035.9L1780.6 1034.9L1781.6 1034.5L1782.7 1034.8L1783.9 1035.8L1785.0 1037.3L1786.2 1039.1L1787.2 1041.1L1788.1 1043.0L1788.6 1044.3L1789.0 1045.8L1789.4 1047.4L1789.7 1049.1L1790.0 1050.8L1790.3 1052.6L1790.5 1054.5L1790.7 1056.4L1790.9 1058.3L1791.1 1060.1L1791.3 1062.0L1791.6 1063.8L1791.9 1065.6L1792.2 1067.3L1792.6 1069.1L1792.9 1070.8L1793.3 1072.5L1793.7 1074.2L1794.0 1075.9L1794.4 1077.7L1794.8 1079.4L1795.1 1081.1L1795.5 1082.8L1795.9 1084.6L1796.2 1086.3L1796.6 1088.1L1796.9 1089.8L1797.3 1091.6L1797.6 1093.4L1797.9 1095.2L1798.2 1097.0L1798.5 1098.9L1798.8 1100.7L1799.1 1102.5L1799.4 1104.3L1799.8 1106.0L1800.1 1107.8L1800.5 1109.4L1800.9 1111.0L1801.3 1112.6L1801.8 1114.6L1802.4 1116.8L1803.0 1118.9L1803.6 1121.1L1804.2 1123.1L1804.8 1124.8L1805.5 1126.3L1806.2 1127.2L1807.0 1127.7L1808.1 1127.5L1809.3 1126.7L1810.5 1125.4L1811.6 1123.7L1812.6 1122.0L1813.1 1120.8L1813.6 1119.5L1813.9 1118.0L1814.3 1116.3L1814.6 1114.6L1814.8 1112.8L1815.0 1110.9L1815.2 1109.0L1815.4 1107.0L1815.6 1105.0L1815.8 1103.1L1816.0 1101.2L1816.2 1099.4L1816.4 1097.6L1816.6 1095.8L1816.8 1094.0L1817.0 1092.3L1817.2 1090.5L1817.4 1088.7L1817.6 1086.9L1817.8 1085.2L1818.0 1083.4L1818.2 1081.7L1818.4 1080.0L1818.6 1078.3L1818.9 1076.6L1819.2 1075.0L1819.6 1073.0L1820.0 1070.9L1820.4 1068.7L1820.8 1066.4L1821.3 1064.3L1821.8 1062.3L1822.3 1060.6L1822.8 1059.3L1823.3 1058.4L1823.9 1058.0L1824.5 1058.3L1825.2 1059.1L1826.0 1060.3L1826.7 1061.9L1827.5 1063.7L1828.2 1065.6L1828.9 1067.5L1829.5 1069.3L1830.0 1070.8L1830.4 1072.3L1830.9 1074.0L1831.3 1075.7L1831.6 1077.4L1832.0 1079.2L1832.3 1081.0L1832.7 1082.8L1833.0 1084.6L1833.4 1086.4L1833.8 1088.2L1834.2 1090.0L1834.6 1091.7L1835.0 1093.5L1835.4 1095.2L1835.8 1097.0L1836.2 1098.8L1836.7 1100.6L1837.1 1102.4L1837.5 1104.1L1838.0 1105.9L1838.4 1107.6L1838.9 1109.3L1839.4 1111.0L1839.9 1112.6L1840.4 1114.3L1841.0 1115.9L1841.5 1117.6L1842.0 1119.3L1842.6 1120.9L1843.2 1122.5L1843.8 1124.0L1844.4 1125.5L1845.1 1126.9L1845.8 1128.2L1846.6 1129.5L1847.7 1130.9L1848.9 1132.2L1850.1 1133.4L1851.4 1134.5L1852.7 1135.6L1853.9 1136.7L1855.1 1138.0L1856.1 1139.3L1857.0 1140.6L1858.0 1142.0L1858.9 1143.4L1859.8 1144.8L1860.7 1146.1L1861.6 1147.3L1862.6 1148.4L1863.9 1149.7L1865.1 1150.9L1866.4 1151.9L1867.8 1152.7L1869.2 1153.1L1870.6 1153.0L1872.2 1152.6L1873.8 1151.9L1875.4 1151.0L1877.0 1150.1L1878.6 1149.3L1880.0 1148.6L1881.4 1148.0L1882.8 1147.3L1884.2 1146.5L1885.5 1145.7L1886.8 1144.8L1888.0 1143.7L1889.0 1142.6L1890.0 1141.5L1890.9 1140.2L1891.7 1138.9L1892.5 1137.5L1893.3 1136.0L1894.1 1134.5L1894.8 1133.0L1895.5 1131.4L1896.1 1129.9L1896.7 1128.3L1897.3 1126.6L1897.8 1125.0L1898.3 1123.2L1898.8 1121.5L1899.2 1119.7L1899.7 1117.9L1900.1 1116.1L1900.6 1114.4L1901.1 1112.6L1901.6 1110.9L1902.0 1109.1L1902.5 1107.3L1902.9 1105.4L1903.3 1103.5L1903.8 1101.7L1904.2 1099.9L1904.7 1098.1L1905.2 1096.4L1905.7 1094.8L1906.2 1093.3L1906.8 1091.9L1907.6 1090.0L1908.5 1088.1L1909.4 1086.4L1910.4 1084.9L1911.4 1083.9L1912.4 1083.4L1913.4 1083.6L1914.6 1084.4L1915.7 1085.5L1916.9 1086.9L1918.0 1088.5L1919.0 1090.0L1919.7 1091.2L1920.4 1092.5L1921.0 1094.0L1921.6 1095.5L1922.1 1097.1L1922.7 1098.8L1923.2 1100.5L1923.8 1102.1L1924.3 1103.8L1924.9 1105.4L1925.6 1107.0L1926.3 1108.5L1927.0 1110.1L1927.8 1111.6L1928.5 1113.1L1929.3 1114.7L1930.1 1116.2L1930.9 1117.7L1931.7 1119.2L1932.5 1120.8L1933.3 1122.3L1934.1 1123.9L1934.9 1125.5L1935.6 1127.1L1936.4 1128.7L1937.1 1130.3L1937.9 1132.0L1938.6 1133.7L1939.4 1135.3L1940.2 1136.9L1941.0 1138.4L1941.8 1139.9L1942.6 1141.4L1943.5 1142.7L1944.6 1144.3L1945.7 1145.8L1946.8 1147.2L1948.0 1148.6L1949.2 1149.9L1950.4 1151.1L1951.6 1152.1L1952.9 1153.1L1954.4 1154.1L1956.0 1155.0L1957.6 1155.8L1959.2 1156.5L1960.8 1156.8L1962.3 1156.8L1963.7 1156.5L1965.1 1155.9L1966.5 1155.0L1967.8 1154.0L1969.2 1152.8L1970.5 1151.5L1971.7 1150.2L1972.7 1149.0L1973.6 1147.8L1974.5 1146.4L1975.4 1144.9L1976.3 1143.4L1977.1 1141.8L1977.9 1140.2L1978.7 1138.5L1979.5 1136.8L1980.3 1135.0L1981.1 1133.3L1981.7 1131.8L1982.4 1130.3L1983.0 1128.8L1983.6 1127.2L1984.3 1125.6L1984.9 1124.0L1985.5 1122.3L1986.1 1120.6L1986.6 1118.9L1987.2 1117.2L1987.8 1115.5L1988.3 1113.8L1988.9 1112.1L1989.4 1110.4L1990.0 1108.7L1990.5 1107.0L1991.0 1105.4L1991.5 1103.7L1992.0 1102.0L1992.4 1100.3L1992.9 1098.6L1993.3 1096.8L1993.8 1095.1L1994.2 1093.3L1994.6 1091.6L1995.0 1089.9L1995.5 1088.2L1995.9 1086.5L1996.3 1084.9L1996.7 1083.3L1997.1 1081.7L1997.6 1080.2L1998.0 1078.7L1998.6 1076.8L1999.1 1074.8L1999.6 1072.9L2000.1 1071.1L2000.6 1069.2L2001.2 1067.5L2001.7 1065.9L2002.3 1064.4L2003.0 1063.0L2003.7 1061.8L2004.7 1060.4L2005.8 1059.1L2006.9 1058.0L2008.1 1057.3L2009.3 1057.1L2010.3 1057.4L2011.4 1058.2L2012.6 1059.4L2013.7 1060.8L2014.8 1062.3L2015.9 1064.0L2016.9 1065.8L2017.8 1067.4L2018.5 1068.9L2019.1 1070.4L2019.7 1072.1L2020.2 1073.8L2020.7 1075.6L2021.2 1077.4L2021.6 1079.2L2022.1 1081.0L2022.5 1082.8L2022.9 1084.6L2023.4 1086.3L2023.9 1088.1L2024.3 1089.8L2024.8 1091.6L2025.2 1093.4L2025.7 1095.2L2026.1 1096.9L2026.6 1098.6L2027.0 1100.2L2027.6 1101.8L2028.1 1103.2L2028.8 1105.0L2029.6 1106.9L2030.4 1108.7L2031.2 1110.2L2032.0 1111.2L2032.9 1111.7L2034.0 1111.3L2035.1 1110.2L2036.3 1108.7L2037.5 1106.9L2038.5 1105.1L2039.2 1103.7L2039.8 1102.0L2040.4 1100.3L2040.9 1098.4L2041.4 1096.6L2041.9 1094.9L2042.5 1093.3L2043.2 1091.9L2044.1 1090.4L2045.0 1088.9L2046.0 1087.6L2046.9 1086.6L2047.9 1086.3L2048.8 1086.7L2049.8 1087.6L2050.8 1088.9L2051.8 1090.4L2052.7 1092.1L2053.5 1093.8L2054.1 1095.2L2054.5 1096.7L2054.9 1098.3L2055.3 1100.1L2055.6 1101.8L2055.9 1103.7L2056.2 1105.5L2056.5 1107.3L2056.9 1109.0L2057.3 1110.7L2057.8 1112.5L2058.2 1114.3L2058.7 1116.2L2059.1 1118.0L2059.6 1119.8L2060.2 1121.5L2060.7 1123.1L2061.3 1124.5L2062.0 1125.8L2063.1 1127.5L2064.2 1129.0L2065.5 1130.1L2066.7 1130.5L2067.8 1130.1L2068.9 1129.0L2070.0 1127.5L2071.2 1125.7L2072.3 1123.8L2073.3 1122.0L2074.0 1120.7L2074.6 1119.4L2075.3 1118.0L2075.9 1116.5L2076.5 1115.0L2077.1 1113.4L2077.7 1111.8L2078.2 1110.1L2078.8 1108.5L2079.3 1106.8L2079.9 1105.1L2080.4 1103.6L2080.8 1102.1L2081.3 1100.5L2081.8 1098.9L2082.2 1097.3L2082.6 1095.6L2083.1 1094.0L2083.5 1092.3L2083.9 1090.6L2084.3 1088.9L2084.8 1087.3L2085.2 1085.6L2085.6 1083.9L2086.1 1082.2L2086.5 1080.6L2086.9 1079.0L2087.4 1077.3L2087.8 1075.7L2088.3 1074.1L2088.8 1072.5L2089.2 1070.8L2089.7 1069.2L2090.1 1067.6L2090.6 1066.0L2091.0 1064.4L2091.5 1062.7L2091.9 1061.1L2092.3 1059.5L2092.7 1057.8L2093.1 1056.2L2093.5 1054.5L2093.9 1052.7L2094.2 1050.9L2094.6 1049.1L2094.9 1047.3L2095.3 1045.5L2095.6 1043.8L2095.9 1042.0L2096.2 1040.2L2096.5 1038.5L2096.9 1036.7L2097.2 1035.0L2097.5 1033.4L2097.8 1031.7L2098.1 1029.9L2098.4 1028.0L2098.7 1026.1L2098.9 1024.2L2099.2 1022.3L2099.4 1020.5L2099.7 1018.7L2100.1 1017.1L2100.5 1015.5L2100.9 1014.1L2101.5 1012.9L2102.5 1011.4L2103.5 1010.2L2104.7 1009.2L2105.9 1008.2L2107.2 1007.2L2108.4 1006.3L2109.7 1005.4L2111.0 1004.6L2112.3 1003.7L2113.6 1002.7L2114.7 1001.6L2115.6 1000.4L2116.5 999.2L2117.3 997.8L2118.0 996.4L2118.8 995.0L2119.5 993.6L2120.3 992.2L2121.1 990.8L2121.9 989.5L2122.6 988.1L2123.4 986.7L2124.2 985.4L2125.1 984.0L2126.0 982.8L2127.2 981.5L2128.4 980.3L2129.8 979.2L2131.1 978.0L2132.4 976.7L2133.5 975.3L2134.4 973.9L2135.2 972.4L2136.0 970.8L2136.7 969.1L2137.4 967.4L2138.1 965.6L2138.7 963.8L2139.2 962.1L2139.6 960.5L2139.9 958.8L2140.2 957.0L2140.4 955.3L2140.6 953.5L2140.8 951.8L2141.1 950.1L2141.5 948.5L2142.0 947.0L2142.7 945.2L2143.6 943.3L2144.5 941.4L2145.5 939.6L2146.5 938.1L2147.6 937.1L2148.6 936.7L2149.6 936.9L2150.7 937.7L2151.9 938.8L2153.0 940.3L2154.1 941.9L2155.2 943.6L2156.1 945.2L2156.8 946.6L2157.5 948.1L2158.1 949.7L2158.7 951.4L2159.2 953.1L2159.8 954.9L2160.2 956.7L2160.7 958.5L2161.2 960.3L2161.7 962.1L2162.1 963.8L2162.6 965.5L2163.0 967.3L2163.3 969.1L2163.7 971.0L2164.1 972.8L2164.4 974.7L2164.8 976.4L2165.2 978.2L2165.6 979.8L2166.0 981.4L2166.4 982.8L2167.0 984.8L2167.6 986.9L2168.2 988.9L2168.9 990.6L2169.5 991.7L2170.2 992.2L2171.0 991.8L2171.8 990.5L2172.6 988.8L2173.3 986.7L2174.0 984.7L2174.4 983.4L2174.6 981.9L2174.9 980.3L2175.1 978.5L2175.3 976.7L2175.5 974.9L2175.6 972.9L2175.8 971.0L2175.9 969.1L2176.1 967.3L2176.3 965.4L2176.5 963.7L2176.8 962.1L2177.1 960.2L2177.4 958.3L2177.7 956.5L2178.1 954.6L2178.4 952.9L2178.8 951.2L2179.3 949.6L2179.8 948.2L2180.5 947.0L2181.5 945.6L2182.6 944.3L2183.8 943.2L2185.1 942.5L2186.2 942.3L2187.4 942.8L2188.5 944.1L2189.6 945.7L2190.7 947.4L2191.8 948.9L2192.7 950.3L2193.6 951.8L2194.4 953.3L2195.3 954.6L2196.5 955.5L2198.0 955.9L2199.7 955.9L2201.6 955.6L2203.4 955.4L2205.0 955.5L2206.5 955.8L2208.0 956.3L2209.3 956.8L2210.6 957.5L2211.7 958.4L2212.8 959.4L2213.8 960.4L2214.8 961.5L2216.1 962.8L2217.4 964.3L2218.5 965.5L2219.0 966.0"/></g>
<g stroke="#0070e0"><path id="c-blue" d="M205.0 660.5L205.7 660.6L207.6 660.7L210.2 660.9L212.9 661.1L214.6 661.2L216.5 661.4L218.7 661.6L221.0 661.8L223.4 662.0L225.9 662.2L228.6 662.5L231.3 662.7L234.0 663.0L236.7 663.2L239.4 663.4L242.0 663.7L244.6 663.9L247.0 664.1L249.4 664.3L251.8 664.5L254.2 664.6L256.6 664.8L259.0 664.9L261.3 665.1L263.7 665.2L266.0 665.4L268.3 665.6L270.7 665.7L273.0 666.0L275.3 666.2L277.6 666.5L280.0 666.8L282.4 667.2L284.7 667.6L287.1 668.0L289.4 668.4L291.7 668.8L294.0 669.3L296.4 669.8L298.7 670.2L301.1 670.7L303.4 671.2L305.8 671.7L308.1 672.2L310.5 672.7L312.8 673.2L315.2 673.6L317.6 674.2L319.9 674.7L322.3 675.2L324.7 675.7L327.1 676.3L329.4 676.9L331.8 677.5L334.1 678.1L336.4 678.7L338.8 679.4L341.2 680.1L343.6 680.8L346.0 681.6L348.4 682.3L350.8 683.1L353.1 683.9L355.5 684.7L357.8 685.5L360.1 686.4L362.4 687.2L364.6 688.1L366.9 689.0L369.1 689.9L371.3 690.8L373.6 691.7L375.8 692.6L377.9 693.5L380.1 694.5L382.2 695.5L384.2 696.5L386.2 697.6L388.1 698.7L390.1 700.0L392.1 701.3L394.0 702.6L395.9 704.0L397.7 705.5L399.5 707.0L401.2 708.5L402.9 710.1L404.6 711.7L406.1 713.3L407.7 714.9L409.1 716.6L410.6 718.3L412.0 720.1L413.4 721.9L414.8 723.7L416.1 725.5L417.4 727.4L418.7 729.3L420.0 731.3L421.3 733.3L422.5 735.4L423.7 737.5L424.8 739.6L426.0 741.8L427.1 743.9L428.2 746.1L429.4 748.3L430.5 750.5L431.6 752.6L432.6 754.7L433.7 756.8L434.7 758.9L435.8 761.0L436.8 763.2L437.9 765.3L438.9 767.5L440.0 769.7L441.1 771.8L442.2 774.0L443.3 776.1L444.4 778.3L445.6 780.4L446.7 782.6L447.9 784.8L449.1 786.9L450.3 789.1L451.5 791.3L452.7 793.4L453.9 795.6L455.1 797.7L456.3 799.8L457.5 801.8L458.6 803.8L459.7 805.9L460.9 807.9L462.0 809.9L463.2 811.9L464.4 813.8L465.5 815.8L466.7 817.7L468.0 819.7L469.2 821.5L470.5 823.4L471.9 825.3L473.3 827.3L474.7 829.2L476.1 831.2L477.6 833.0L479.0 834.9L480.6 836.7L482.1 838.5L483.7 840.2L485.3 841.8L486.9 843.4L488.6 844.9L490.4 846.4L492.2 847.8L494.0 849.1L495.9 850.4L497.8 851.6L499.7 852.8L501.7 854.0L503.7 855.2L505.7 856.3L507.7 857.4L509.8 858.5L511.9 859.5L514.0 860.5L516.1 861.5L518.3 862.5L520.5 863.4L522.7 864.3L524.9 865.2L527.1 866.1L529.3 866.9L531.6 867.7L534.0 868.6L536.3 869.3L538.6 870.1L541.0 870.8L543.4 871.5L545.7 872.1L548.1 872.7L550.4 873.3L552.8 873.9L555.1 874.4L557.5 874.9L559.8 875.4L562.2 875.8L564.5 876.3L566.9 876.6L569.2 877.0L571.6 877.3L573.9 877.6L576.3 877.9L578.6 878.1L580.9 878.4L583.2 878.5L585.4 878.7L587.7 878.8L590.0 878.9L592.3 879.0L594.7 879.0L597.2 879.0L599.8 879.0L601.9 879.0L604.1 878.9L606.3 878.8L608.7 878.7L611.0 878.5L613.4 878.4L615.8 878.2L618.2 878.0L620.7 877.8L623.1 877.6L625.6 877.4L628.0 877.1L630.4 876.8L632.8 876.6L635.1 876.3L637.4 876.0L639.8 875.7L642.2 875.3L644.6 875.0L646.9 874.6L649.3 874.2L651.6 873.7L654.0 873.3L656.3 872.9L658.6 872.4L660.9 871.9L663.2 871.5L665.4 871.0L667.7 870.5L670.0 870.0L672.4 869.5L674.7 869.0L677.1 868.5L679.5 867.9L681.9 867.4L684.2 866.9L686.6 866.3L688.9 865.7L691.2 865.1L693.4 864.5L695.7 863.8L697.8 863.1L700.0 862.3L702.3 861.4L704.5 860.5L706.7 859.5L708.9 858.4L711.0 857.4L713.1 856.3L715.2 855.1L717.2 854.0L719.3 852.8L721.4 851.7L723.5 850.5L725.7 849.3L727.8 848.1L730.0 846.9L732.1 845.6L734.2 844.3L736.4 843.1L738.5 841.8L740.6 840.4L742.8 839.1L744.9 837.8L747.0 836.4L749.0 835.1L751.0 833.8L752.9 832.5L754.9 831.1L756.9 829.8L758.9 828.4L760.8 827.0L762.8 825.6L764.7 824.2L766.7 822.8L768.7 821.4L770.6 820.0L772.6 818.6L774.6 817.1L776.5 815.6L778.5 814.1L780.5 812.7L782.5 811.2L784.5 809.7L786.4 808.2L788.4 806.7L790.3 805.2L792.1 803.7L794.0 802.3L796.0 800.7L798.0 799.1L800.0 797.5L801.9 795.9L803.9 794.4L805.8 792.8L807.6 791.3L809.4 789.8L811.2 788.4L812.9 787.0L814.7 785.5L816.4 784.0L818.0 782.5L819.6 781.0L821.2 779.7L822.9 778.6L824.6 777.6L826.9 776.6L829.2 775.8L831.6 775.3L834.0 774.9L836.4 774.8L838.8 774.9L841.2 775.2L843.6 775.8L845.9 776.6L848.2 777.6L850.0 778.7L851.8 779.9L853.5 781.3L855.2 782.9L856.8 784.6L858.4 786.4L859.9 788.2L861.3 790.1L862.6 792.2L863.8 794.5L864.9 796.8L866.0 799.1L867.1 801.4L868.2 803.7L869.3 805.8L870.5 808.2L871.7 810.7L872.8 813.2L874.0 815.4L875.2 817.3L876.4 818.8L877.9 820.1L879.5 820.9L881.1 821.0L882.5 820.2L883.9 818.8L885.3 816.8L886.7 814.8L888.1 812.9L889.5 811.0L890.7 808.9L892.1 806.9L893.5 805.0L895.2 803.5L897.3 802.5L899.8 801.8L902.3 801.4L904.8 800.8L907.0 800.0L909.0 798.8L910.8 797.5L912.4 795.9L914.0 794.0L915.0 792.4L915.8 790.4L916.6 788.3L917.3 786.1L918.0 783.8L918.8 781.6L919.8 779.5L921.0 777.6L922.4 775.9L924.1 774.3L925.9 772.8L927.8 771.4L929.7 770.1L931.6 768.7L933.5 767.3L935.2 765.8L937.0 764.1L938.7 762.4L940.3 760.6L942.0 758.9L943.6 757.2L945.3 755.5L947.0 754.0L948.9 752.4L950.7 751.0L952.6 749.6L954.5 748.2L956.6 747.0L958.7 745.8L960.8 744.8L963.1 743.8L965.4 743.0L967.8 742.1L970.3 741.4L972.7 740.7L975.2 740.0L977.5 739.4L979.8 738.9L982.1 738.5L984.4 738.1L986.8 737.7L989.2 737.3L991.6 736.9L994.0 736.4L996.3 735.9L998.6 735.5L1000.9 735.1L1003.3 734.6L1005.6 734.1L1008.0 733.6L1010.4 733.1L1012.8 732.4L1015.2 731.7L1017.3 731.0L1019.3 730.3L1021.4 729.5L1023.5 728.6L1025.6 727.7L1027.7 726.8L1029.9 725.8L1032.0 724.9L1034.2 723.9L1036.4 722.9L1038.7 722.0L1041.0 721.0L1043.1 720.2L1045.2 719.3L1047.4 718.3L1049.6 717.4L1051.8 716.4L1054.1 715.5L1056.4 714.5L1058.7 713.5L1061.0 712.6L1063.3 711.7L1065.6 710.8L1067.8 709.9L1070.0 709.1L1072.2 708.3L1074.3 707.6L1076.3 707.0L1078.8 706.3L1081.2 705.8L1083.5 705.3L1085.8 705.0L1088.0 704.6L1090.3 704.3L1092.6 703.9L1094.9 703.5L1097.3 702.9L1099.8 702.3L1102.0 701.7L1104.2 700.9L1106.4 700.1L1108.7 699.3L1111.0 698.4L1113.4 697.5L1115.8 696.5L1118.1 695.6L1120.6 694.6L1123.0 693.6L1125.4 692.7L1127.8 691.8L1130.2 690.9L1132.6 690.1L1135.0 689.4L1137.3 688.7L1139.7 688.1L1142.1 687.5L1144.5 686.9L1146.9 686.4L1149.3 685.9L1151.7 685.4L1154.1 684.9L1156.5 684.4L1158.8 683.9L1161.2 683.4L1163.5 682.9L1165.8 682.3L1168.1 681.8L1170.4 681.2L1172.8 680.5L1175.1 679.9L1177.5 679.2L1179.8 678.5L1182.1 677.7L1184.4 677.0L1186.7 676.3L1189.0 675.6L1191.2 674.9L1193.4 674.2L1195.7 673.5L1197.8 672.9L1200.0 672.3L1202.4 671.7L1204.9 671.0L1207.2 670.4L1209.6 669.8L1211.9 669.3L1214.2 668.7L1216.5 668.2L1218.8 667.7L1221.2 667.3L1223.5 666.9L1225.8 666.5L1228.2 666.2L1230.5 666.0L1232.9 665.7L1235.2 665.5L1237.6 665.3L1239.9 665.2L1242.3 665.0L1244.6 664.8L1247.0 664.6L1249.3 664.4L1251.6 664.2L1253.8 664.0L1256.0 663.7L1258.3 663.5L1260.6 663.3L1262.9 663.1L1265.4 663.0L1267.9 662.8L1270.6 662.7L1272.7 662.6L1275.0 662.5L1277.3 662.5L1279.7 662.4L1282.2 662.4L1284.8 662.3L1287.4 662.3L1290.1 662.3L1292.8 662.3L1295.5 662.3L1298.1 662.3L1300.8 662.3L1303.4 662.3L1306.0 662.3L1308.5 662.4L1310.9 662.5L1313.3 662.5L1315.5 662.6L1317.6 662.7L1320.3 662.8L1322.9 663.0L1325.3 663.2L1327.7 663.4L1330.0 663.6L1332.3 663.9L1334.5 664.1L1336.7 664.4L1338.9 664.7L1341.1 665.0L1343.5 665.4L1345.8 665.9L1348.0 666.4L1350.2 666.9L1352.4 667.4L1354.7 667.9L1357.2 668.3L1359.9 668.6L1361.9 668.8L1363.9 668.9L1366.1 669.0L1368.3 669.1L1370.6 669.1L1373.0 669.2L1375.4 669.2L1377.9 669.1L1380.4 669.1L1382.9 669.1L1385.4 669.0L1387.9 669.0L1390.3 669.0L1392.8 668.9L1395.2 668.9L1397.6 668.8L1399.9 668.8L1402.3 668.8L1404.8 668.8L1407.3 668.8L1409.8 668.8L1412.2 668.8L1414.7 668.8L1417.2 668.8L1419.6 668.8L1422.0 668.7L1424.4 668.7L1426.7 668.6L1428.9 668.5L1431.1 668.4L1433.2 668.2L1435.2 668.0L1437.9 667.6L1440.4 667.2L1442.7 666.6L1445.1 666.1L1447.3 665.5L1449.5 665.0L1451.7 664.4L1454.0 664.0L1456.4 663.6L1458.6 663.2L1460.9 662.8L1463.1 662.5L1465.4 662.2L1467.9 661.9L1470.5 661.7L1472.5 661.6L1474.7 661.5L1476.9 661.5L1479.2 661.5L1481.5 661.5L1483.9 661.6L1486.3 661.6L1488.8 661.7L1491.2 661.8L1493.7 661.8L1496.2 661.9L1498.6 662.0L1501.0 662.0L1503.3 662.0L1505.7 662.0L1508.0 662.1L1510.4 662.1L1512.8 662.1L1515.2 662.1L1517.5 662.1L1519.9 662.2L1522.3 662.2L1524.7 662.2L1527.0 662.3L1529.3 662.3L1531.6 662.4L1533.9 662.5L1536.3 662.6L1538.8 662.7L1541.2 662.8L1543.7 662.8L1546.1 662.9L1548.5 663.0L1550.8 663.2L1553.2 663.3L1555.4 663.5L1557.7 663.7L1559.9 664.0L1562.0 664.3L1564.6 664.7L1567.1 665.2L1569.5 665.8L1571.8 666.4L1574.1 667.0L1576.4 667.7L1578.6 668.4L1580.9 669.2L1583.1 670.0L1585.3 670.9L1587.5 671.8L1589.7 672.8L1591.8 673.9L1593.9 674.9L1595.9 676.0L1597.8 677.1L1599.9 678.4L1601.9 679.7L1603.8 681.0L1605.7 682.4L1607.4 684.0L1609.0 685.6L1610.5 687.4L1611.9 689.3L1613.2 691.2L1614.4 693.3L1615.5 695.5L1616.6 697.8L1617.5 699.9L1618.3 702.1L1619.0 704.3L1619.7 706.7L1620.4 709.1L1621.0 711.5L1621.7 714.1L1622.3 716.6L1622.8 718.8L1623.4 721.2L1623.9 723.6L1624.4 726.0L1624.9 728.5L1625.4 731.0L1625.9 733.5L1626.3 735.9L1626.8 738.3L1627.4 740.7L1627.9 743.0L1628.5 745.5L1629.0 748.0L1629.6 750.6L1630.2 753.1L1630.8 755.5L1631.4 757.8L1632.1 760.0L1632.8 762.0L1633.6 763.7L1634.8 766.0L1636.2 768.0L1637.6 769.6L1639.2 770.3L1641.0 770.0L1643.0 769.0L1645.0 767.4L1646.8 765.6L1648.0 764.1L1649.2 762.3L1650.2 760.3L1651.3 758.3L1652.3 756.2L1653.3 754.2L1654.3 752.4L1655.4 750.5L1656.5 748.6L1657.6 746.8L1658.7 745.2L1659.9 743.9L1661.7 742.4L1663.7 741.4L1665.6 741.0L1667.5 741.7L1669.4 743.1L1671.2 744.9L1672.4 746.3L1673.6 748.0L1674.8 749.9L1676.0 751.7L1677.3 753.6L1678.7 755.2L1680.4 756.9L1682.3 758.4L1684.2 759.9L1686.2 761.3L1688.0 762.7L1690.0 764.1L1692.0 765.5L1693.9 766.8L1695.7 768.4L1697.1 770.1L1698.4 772.2L1699.7 774.2L1701.0 775.9L1702.3 776.9L1704.7 777.1L1707.0 776.0L1708.2 774.5L1709.1 772.4L1709.9 770.0L1710.7 767.4L1711.3 765.3L1711.9 763.0L1712.4 760.6L1712.9 758.1L1713.4 755.6L1713.9 753.0L1714.5 750.5L1715.0 748.2L1715.6 745.8L1716.2 743.4L1716.8 740.9L1717.3 738.5L1717.9 736.2L1718.6 733.9L1719.2 731.7L1719.9 729.2L1720.6 726.8L1721.3 724.4L1722.0 722.1L1722.9 720.1L1723.9 718.5L1725.6 716.7L1727.5 715.4L1729.5 714.8L1731.7 715.1L1733.9 716.1L1736.0 717.6L1737.5 719.2L1738.9 721.1L1740.2 723.4L1741.5 725.7L1742.7 727.9L1743.7 729.8L1744.6 731.8L1745.5 733.8L1746.4 735.7L1747.4 737.6L1748.4 739.2L1749.7 741.1L1751.2 742.9L1752.6 744.3L1754.0 744.9L1755.6 744.2L1757.2 742.6L1758.7 741.0L1759.9 739.5L1761.1 738.0L1762.5 737.0L1764.5 737.1L1766.8 737.8L1769.0 738.3L1771.0 738.1L1772.9 737.6L1774.7 737.7L1776.2 738.5L1777.6 739.8L1779.0 741.3L1780.3 743.0L1781.4 744.6L1782.4 746.3L1783.3 748.2L1784.3 750.2L1785.2 752.2L1786.0 754.3L1786.8 756.3L1787.5 758.4L1788.2 760.5L1788.9 762.7L1789.5 764.9L1790.1 767.1L1790.7 769.3L1791.2 771.5L1791.6 773.6L1792.0 775.8L1792.4 778.0L1792.7 780.2L1793.1 782.3L1793.5 784.4L1793.9 786.7L1794.3 788.9L1794.7 791.2L1795.2 793.4L1795.7 795.5L1796.3 797.6L1797.1 799.8L1797.9 802.1L1798.8 804.2L1799.9 806.2L1801.0 807.9L1802.8 810.1L1804.7 811.9L1806.7 812.6L1808.6 811.7L1810.4 809.9L1812.3 807.9L1813.7 806.4L1815.0 804.7L1816.4 803.2L1818.0 802.3L1819.7 802.2L1821.6 802.8L1823.5 803.5L1825.5 804.1L1827.8 804.6L1830.3 805.0L1832.7 805.5L1834.9 806.0L1836.7 806.5L1838.4 807.1L1840.0 808.1L1841.1 809.4L1842.2 811.1L1843.2 813.1L1844.2 815.2L1845.2 817.4L1846.3 819.5L1847.5 821.3L1848.9 823.1L1850.4 824.7L1852.0 826.3L1853.6 827.8L1855.3 829.3L1856.9 830.7L1858.7 832.2L1860.5 833.7L1862.4 835.0L1864.3 836.3L1866.3 837.3L1868.3 838.2L1870.5 839.2L1872.6 839.9L1874.7 840.2L1876.7 840.1L1878.5 839.3L1880.3 838.0L1881.9 836.3L1883.5 834.4L1885.2 832.6L1886.8 830.9L1888.5 829.2L1890.2 827.4L1891.8 825.5L1893.3 823.4L1894.6 821.3L1895.5 819.4L1896.3 817.3L1897.0 815.1L1897.6 812.9L1898.2 810.7L1898.8 808.5L1899.5 806.4L1900.2 804.4L1901.0 802.3L1901.9 800.2L1902.7 798.2L1903.6 796.4L1904.7 794.6L1905.9 793.1L1907.6 791.5L1909.5 789.9L1911.5 788.6L1913.5 787.7L1915.3 787.5L1916.9 788.2L1918.4 789.5L1919.8 791.3L1921.3 793.2L1922.8 795.0L1924.3 796.5L1925.9 798.0L1927.6 799.5L1929.2 801.1L1930.7 802.7L1932.2 804.4L1933.5 806.3L1934.7 808.3L1935.9 810.3L1937.0 812.3L1938.3 814.2L1939.7 815.7L1941.4 816.9L1943.4 817.8L1945.4 818.5L1947.3 819.3L1949.1 820.4L1950.8 822.0L1952.3 823.8L1953.8 825.7L1955.3 827.5L1956.7 828.8L1958.3 829.9L1959.8 830.6L1961.4 830.7L1963.1 829.7L1964.8 827.7L1966.4 825.4L1967.9 823.2L1968.9 821.3L1969.8 819.3L1970.6 817.5L1971.7 816.6L1973.5 816.7L1975.5 817.8L1977.3 819.4L1978.2 821.0L1979.0 822.9L1979.6 825.2L1980.1 827.7L1980.6 830.2L1981.1 832.6L1981.7 834.9L1982.2 837.4L1982.7 839.9L1983.2 842.4L1983.8 844.9L1984.3 847.3L1984.9 849.5L1985.5 852.1L1986.1 854.7L1986.8 857.1L1987.6 859.2L1988.6 860.8L1990.1 862.0L1991.8 862.7L1993.3 862.7L1994.4 861.7L1995.4 860.0L1996.3 857.8L1997.2 855.4L1998.0 853.3L1998.8 851.3L1999.4 849.1L2000.1 847.0L2000.8 845.2L2001.8 843.9L2004.0 842.9L2006.5 843.0L2008.1 843.7L2009.8 844.8L2011.5 846.2L2013.1 847.7L2014.6 849.4L2015.9 851.4L2017.2 853.3L2018.7 855.2L2020.1 856.5L2021.7 857.7L2023.4 859.0L2024.9 860.3L2026.3 861.8L2027.4 863.6L2028.4 865.7L2029.2 867.9L2030.0 870.1L2030.9 872.2L2031.9 874.0L2033.2 876.1L2034.7 878.2L2036.1 879.8L2037.6 880.6L2039.2 880.3L2040.9 879.3L2042.3 877.8L2043.1 875.9L2043.5 873.3L2043.9 870.6L2044.3 868.1L2045.1 866.5L2046.9 865.4L2048.8 865.5L2049.6 866.5L2050.3 868.3L2050.8 870.6L2051.3 873.2L2051.9 875.7L2052.6 877.8L2053.5 879.9L2054.5 882.1L2055.6 884.1L2056.8 885.9L2058.2 887.2L2060.0 888.0L2061.9 888.3L2064.0 888.5L2065.8 889.0L2067.7 890.2L2069.5 891.6L2071.4 892.8L2073.5 893.9L2075.7 894.9L2078.0 895.1L2079.7 894.6L2081.5 893.6L2083.2 892.2L2084.9 890.7L2086.5 889.0L2087.8 887.5L2089.0 885.8L2090.1 884.0L2091.2 882.1L2092.2 880.1L2093.1 878.0L2094.0 875.9L2094.7 873.9L2095.4 871.7L2095.9 869.5L2096.5 867.1L2096.9 864.8L2097.4 862.4L2097.8 860.0L2098.2 857.6L2098.7 855.2L2099.1 853.0L2099.5 850.7L2099.9 848.5L2100.3 846.2L2100.7 843.9L2101.0 841.6L2101.4 839.3L2101.8 837.1L2102.1 834.8L2102.5 832.6L2102.9 830.3L2103.3 827.9L2103.7 825.6L2104.1 823.3L2104.5 821.0L2104.9 818.7L2105.3 816.4L2105.7 814.1L2106.2 811.9L2106.7 809.5L2107.3 807.1L2107.9 804.7L2108.4 802.3L2109.0 799.9L2109.7 797.6L2110.3 795.3L2110.9 793.1L2111.5 790.8L2112.1 788.4L2112.7 786.0L2113.3 783.7L2113.9 781.6L2114.7 779.6L2115.6 778.0L2117.4 775.7L2119.4 773.9L2121.3 773.3L2122.5 774.0L2123.6 775.6L2124.7 777.7L2125.8 779.9L2126.9 781.8L2128.3 784.1L2129.7 786.5L2131.1 788.4L2132.6 789.3L2134.0 788.8L2135.5 787.5L2137.0 785.7L2138.2 783.7L2139.0 782.0L2139.6 780.0L2140.1 777.8L2140.5 775.4L2141.0 773.1L2141.4 770.8L2142.0 768.6L2142.7 766.4L2143.4 764.2L2144.2 762.0L2144.9 759.9L2145.8 757.7L2146.7 755.5L2147.6 753.3L2148.6 751.1L2149.7 748.8L2150.8 746.6L2151.9 744.4L2153.1 742.3L2154.2 740.4L2155.5 738.2L2156.8 736.0L2158.2 733.9L2159.5 732.5L2160.8 731.9L2162.3 732.5L2163.8 734.1L2165.2 736.2L2166.4 738.5L2167.1 740.3L2167.7 742.5L2168.2 744.8L2168.6 747.3L2168.9 749.9L2169.3 752.4L2169.7 754.9L2170.2 757.3L2170.7 759.7L2171.3 762.4L2171.8 765.2L2172.4 767.9L2173.0 770.3L2173.6 772.3L2174.2 773.7L2174.9 774.3L2176.1 773.4L2177.5 771.1L2178.7 768.6L2179.5 766.6L2180.2 764.4L2180.8 762.1L2181.5 759.7L2182.4 757.3L2183.3 755.2L2184.3 753.0L2185.3 750.8L2186.5 748.5L2187.6 746.3L2188.8 744.2L2190.0 742.3L2191.4 740.1L2192.8 737.9L2194.3 735.9L2195.8 734.2L2197.5 732.9L2199.5 732.1L2201.8 731.7L2204.0 731.6L2206.0 731.9L2208.1 732.8L2210.0 734.1L2211.6 735.5L2212.8 736.7L2213.8 738.1L2214.8 739.5L2216.5 741.7L2218.2 743.9L2219.0 745.0"/></g>
<g stroke="#00b068"><path id="c-green" d="M205.0 389.0L205.7 389.2L207.6 389.7L210.2 390.4L212.9 391.2L214.5 391.6L216.2 392.2L218.2 392.7L220.3 393.3L222.5 394.0L224.8 394.6L227.2 395.3L229.7 396.1L232.2 396.8L234.7 397.5L237.2 398.2L239.8 399.0L242.2 399.7L244.7 400.3L247.0 401.0L249.3 401.6L251.7 402.2L254.0 402.8L256.4 403.4L258.7 404.0L261.1 404.6L263.5 405.2L265.8 405.8L268.2 406.4L270.6 407.0L272.9 407.6L275.3 408.2L277.6 408.9L280.0 409.6L282.3 410.4L284.5 411.2L286.8 411.9L289.1 412.8L291.4 413.6L293.6 414.5L295.9 415.3L298.2 416.2L300.5 417.2L302.7 418.1L305.0 419.0L307.2 419.9L309.3 420.9L311.5 421.8L313.6 422.7L315.6 423.6L317.6 424.5L319.9 425.6L322.2 426.6L324.4 427.7L326.5 428.7L328.6 429.7L330.7 430.8L332.7 431.9L334.8 432.9L336.8 434.0L338.9 435.2L341.0 436.3L343.2 437.5L345.3 438.7L347.5 439.9L349.6 441.2L351.8 442.5L353.9 443.7L356.1 445.0L358.2 446.4L360.4 447.7L362.5 449.0L364.6 450.4L366.6 451.7L368.6 453.0L370.7 454.4L372.8 455.7L374.8 457.1L376.9 458.5L378.9 459.9L380.9 461.3L382.8 462.7L384.6 464.1L386.4 465.5L388.0 466.9L389.8 468.6L391.6 470.2L393.2 471.9L394.7 473.5L396.2 475.2L397.6 476.9L399.1 478.7L400.5 480.5L401.8 482.3L403.2 484.1L404.4 485.9L405.7 487.8L406.9 489.7L408.2 491.6L409.4 493.7L410.5 495.8L411.7 498.0L412.7 500.0L413.6 502.0L414.5 504.1L415.5 506.3L416.4 508.6L417.2 510.9L418.1 513.2L419.0 515.5L419.9 517.8L420.7 520.2L421.6 522.5L422.5 524.8L423.4 527.0L424.3 529.2L425.2 531.4L426.1 533.6L427.0 535.8L427.9 538.1L428.8 540.3L429.7 542.5L430.6 544.7L431.5 546.8L432.4 549.0L433.3 551.1L434.3 553.2L435.2 555.3L436.2 557.5L437.3 559.8L438.3 561.9L439.3 564.1L440.4 566.3L441.4 568.4L442.5 570.5L443.6 572.6L444.7 574.7L445.8 576.7L447.0 578.8L448.2 580.8L449.4 582.8L450.6 584.8L451.8 586.8L453.0 588.8L454.3 590.8L455.6 592.7L456.9 594.6L458.2 596.4L459.6 598.2L461.0 600.0L462.5 601.8L464.1 603.6L465.6 605.4L467.2 607.2L468.9 608.9L470.5 610.5L472.2 612.1L473.9 613.6L475.7 615.0L477.5 616.4L479.4 617.7L481.4 619.0L483.4 620.1L485.4 621.2L487.4 622.2L489.6 623.2L491.7 624.1L494.0 625.0L496.3 625.8L498.4 626.5L500.6 627.2L502.9 627.8L505.2 628.3L507.6 628.9L510.0 629.4L512.4 629.8L514.8 630.3L517.3 630.7L519.7 631.0L522.1 631.4L524.5 631.7L526.8 632.0L529.1 632.2L531.4 632.4L533.6 632.6L535.9 632.7L538.2 632.8L540.5 632.9L542.8 633.0L545.2 633.0L547.7 633.1L550.2 633.2L552.8 633.3L555.0 633.4L557.3 633.5L559.6 633.6L562.0 633.6L564.5 633.7L566.9 633.8L569.5 633.9L572.0 634.0L574.6 634.0L577.2 634.1L579.8 634.2L582.4 634.2L584.9 634.3L587.5 634.3L590.0 634.4L592.5 634.4L595.0 634.4L597.4 634.5L599.8 634.5L602.3 634.5L604.7 634.5L607.1 634.6L609.6 634.6L611.9 634.6L614.3 634.6L616.7 634.6L619.0 634.6L621.3 634.6L623.7 634.6L626.0 634.5L628.3 634.5L630.6 634.5L632.8 634.4L635.1 634.4L637.4 634.3L639.8 634.2L642.2 634.1L644.6 634.0L647.0 633.9L649.4 633.7L651.8 633.6L654.1 633.4L656.5 633.3L658.8 633.1L661.2 633.0L663.5 632.8L665.8 632.7L668.1 632.5L670.4 632.4L672.9 632.3L675.5 632.2L678.0 632.1L680.5 632.0L683.0 631.9L685.5 631.8L688.0 631.7L690.4 631.6L692.9 631.5L695.3 631.4L697.7 631.3L700.0 631.1L702.5 630.9L704.9 630.7L707.3 630.5L709.6 630.3L711.9 630.1L714.2 629.9L716.5 629.7L718.9 629.4L721.2 629.1L723.5 628.8L725.9 628.5L728.2 628.1L730.6 627.7L732.9 627.3L735.3 626.9L737.6 626.4L740.0 626.0L742.3 625.5L744.7 625.1L747.0 624.6L749.4 624.1L751.7 623.6L754.1 623.2L756.5 622.7L758.8 622.1L761.2 621.6L763.5 621.1L765.9 620.5L768.3 620.0L770.6 619.4L773.0 618.8L775.3 618.2L777.7 617.6L780.1 617.0L782.5 616.4L784.9 615.8L787.2 615.1L789.5 614.4L791.8 613.6L794.0 612.8L796.2 611.9L798.4 610.9L800.5 609.8L802.6 608.7L804.7 607.5L806.8 606.4L808.8 605.3L810.9 604.3L812.9 603.4L815.0 602.5L817.0 601.6L819.1 600.8L821.1 600.0L823.1 599.2L825.2 598.6L827.3 598.0L829.4 597.5L831.7 597.1L834.1 596.8L836.5 596.5L838.9 596.4L841.3 596.3L843.7 596.3L846.0 596.5L848.2 596.8L850.4 597.2L852.5 597.8L854.6 598.5L856.7 599.2L858.7 600.1L860.5 601.1L862.3 602.2L864.1 603.6L865.7 605.2L867.2 606.9L868.7 608.7L870.2 610.3L871.7 611.7L873.7 613.3L875.8 614.8L877.8 616.0L879.9 616.4L881.9 615.9L884.0 614.6L886.0 613.1L888.1 611.7L889.9 610.7L891.7 609.7L893.6 608.7L895.5 607.8L897.6 607.0L899.8 606.5L902.2 606.3L904.8 606.2L907.2 605.9L909.6 605.5L911.7 604.6L913.3 603.4L914.6 601.8L915.8 600.1L917.0 598.2L918.2 596.2L919.5 594.4L921.0 592.8L922.8 591.3L924.7 589.9L926.7 588.6L928.7 587.3L930.9 586.0L933.0 584.8L935.2 583.4L937.2 582.1L939.2 580.8L941.2 579.4L943.3 578.1L945.3 576.7L947.5 575.4L949.6 574.1L951.8 572.9L954.0 571.7L956.0 570.7L958.1 569.7L960.2 568.8L962.4 567.8L964.5 566.9L966.7 566.1L968.8 565.3L971.0 564.6L973.1 564.0L975.2 563.4L977.6 562.9L979.9 562.5L982.2 562.2L984.6 562.0L986.9 561.8L989.2 561.6L991.6 561.4L994.0 561.1L996.3 560.8L998.6 560.5L1000.9 560.2L1003.3 560.0L1005.6 559.6L1008.0 559.3L1010.4 558.8L1012.8 558.3L1015.2 557.6L1017.3 556.9L1019.4 556.1L1021.5 555.3L1023.5 554.4L1025.6 553.4L1027.8 552.4L1029.9 551.3L1032.1 550.3L1034.2 549.1L1036.5 548.0L1038.7 546.9L1041.0 545.8L1043.1 544.8L1045.2 543.7L1047.3 542.6L1049.5 541.5L1051.7 540.4L1054.0 539.2L1056.2 538.0L1058.5 536.8L1060.8 535.6L1063.1 534.4L1065.3 533.3L1067.6 532.2L1069.8 531.1L1072.0 530.1L1074.2 529.1L1076.3 528.2L1078.7 527.2L1081.1 526.4L1083.5 525.6L1085.9 524.9L1088.2 524.3L1090.6 523.6L1092.9 523.0L1095.2 522.3L1097.5 521.5L1099.8 520.7L1102.2 519.8L1104.5 518.8L1106.5 517.8L1108.6 516.7L1110.6 515.6L1112.6 514.3L1114.6 513.1L1116.6 511.8L1118.6 510.4L1120.6 509.1L1122.6 507.7L1124.6 506.4L1126.6 505.0L1128.7 503.7L1130.8 502.4L1132.9 501.2L1135.0 500.0L1137.1 498.9L1139.3 497.8L1141.5 496.7L1143.7 495.7L1145.9 494.6L1148.2 493.6L1150.4 492.6L1152.7 491.6L1155.0 490.6L1157.2 489.6L1159.5 488.6L1161.7 487.6L1163.9 486.6L1166.1 485.6L1168.3 484.6L1170.4 483.5L1172.6 482.4L1174.8 481.2L1177.0 480.0L1179.2 478.8L1181.4 477.6L1183.5 476.4L1185.6 475.2L1187.7 474.0L1189.8 472.8L1191.9 471.6L1193.9 470.4L1196.0 469.3L1198.0 468.1L1200.0 467.0L1202.2 465.8L1204.4 464.5L1206.6 463.3L1208.7 462.1L1210.8 460.9L1213.0 459.7L1215.0 458.6L1217.1 457.4L1219.2 456.3L1221.4 455.1L1223.5 454.0L1225.6 452.9L1227.7 451.7L1229.9 450.6L1232.0 449.5L1234.1 448.4L1236.2 447.3L1238.4 446.2L1240.5 445.2L1242.7 444.2L1244.8 443.2L1247.0 442.3L1249.3 441.4L1251.6 440.5L1253.9 439.7L1256.1 438.9L1258.4 438.2L1260.7 437.4L1263.1 436.8L1265.5 436.1L1268.0 435.4L1270.6 434.8L1272.7 434.3L1274.9 433.8L1277.2 433.3L1279.4 432.8L1281.8 432.4L1284.1 431.9L1286.5 431.5L1288.9 431.1L1291.3 430.7L1293.8 430.4L1296.2 430.0L1298.6 429.7L1301.0 429.4L1303.4 429.1L1305.8 428.9L1308.2 428.7L1310.5 428.5L1313.0 428.4L1315.4 428.2L1317.8 428.1L1320.2 428.1L1322.7 428.0L1325.1 428.0L1327.5 427.9L1329.9 427.9L1332.2 428.0L1334.5 428.0L1336.8 428.1L1339.0 428.1L1341.1 428.2L1343.6 428.4L1346.0 428.6L1348.4 429.0L1350.6 429.3L1352.9 429.7L1355.1 430.0L1357.4 430.3L1359.7 430.5L1362.1 430.6L1364.6 430.6L1366.8 430.4L1369.0 430.2L1371.2 429.9L1373.5 429.5L1375.9 429.1L1378.2 428.6L1380.6 428.0L1383.0 427.5L1385.4 426.9L1387.9 426.3L1390.3 425.7L1392.7 425.1L1395.1 424.5L1397.5 424.0L1399.9 423.5L1402.3 423.0L1404.7 422.6L1407.1 422.2L1409.5 421.8L1412.0 421.4L1414.4 421.0L1416.9 420.6L1419.3 420.2L1421.7 419.8L1424.1 419.3L1426.4 418.8L1428.7 418.3L1430.9 417.7L1433.1 417.1L1435.2 416.4L1437.6 415.5L1439.8 414.5L1442.0 413.5L1444.2 412.3L1446.2 411.2L1448.3 410.0L1450.3 408.8L1452.4 407.7L1454.5 406.6L1456.6 405.6L1458.7 404.7L1461.0 403.8L1463.3 403.0L1465.7 402.2L1468.0 401.5L1470.4 400.9L1472.7 400.2L1475.1 399.6L1477.5 399.0L1479.8 398.5L1482.2 398.0L1484.5 397.5L1486.9 397.1L1489.2 396.8L1491.6 396.5L1493.9 396.2L1496.3 395.9L1498.6 395.6L1501.0 395.4L1503.3 395.1L1505.7 394.8L1508.0 394.5L1510.4 394.1L1512.7 393.7L1515.0 393.4L1517.4 393.0L1519.7 392.6L1522.1 392.3L1524.4 392.1L1526.9 391.8L1529.3 391.7L1531.6 391.6L1534.0 391.6L1536.4 391.6L1538.9 391.6L1541.4 391.6L1543.9 391.7L1546.3 391.8L1548.7 392.0L1551.1 392.2L1553.3 392.4L1555.5 392.6L1557.5 392.9L1560.2 393.3L1562.6 393.7L1564.9 394.2L1567.2 394.9L1569.4 395.6L1571.6 396.5L1573.7 397.5L1575.8 398.6L1577.8 399.9L1579.8 401.2L1581.8 402.7L1583.8 404.3L1585.7 405.9L1587.4 407.4L1589.1 409.1L1590.8 410.8L1592.5 412.6L1594.2 414.5L1595.8 416.4L1597.3 418.3L1598.7 420.2L1600.0 422.1L1601.3 424.2L1602.6 426.3L1603.7 428.4L1604.7 430.5L1605.7 432.6L1606.6 434.8L1607.5 437.1L1608.3 439.3L1609.1 441.6L1609.9 443.8L1610.6 446.2L1611.3 448.5L1611.9 451.0L1612.6 453.5L1613.2 456.0L1613.7 458.2L1614.2 460.5L1614.7 462.8L1615.1 465.2L1615.5 467.6L1616.0 470.0L1616.4 472.5L1616.8 474.9L1617.1 477.4L1617.5 479.9L1617.9 482.3L1618.2 484.6L1618.6 486.9L1618.9 489.3L1619.2 491.6L1619.5 494.0L1619.8 496.3L1620.1 498.7L1620.4 501.1L1620.7 503.4L1621.0 505.8L1621.3 508.1L1621.6 510.5L1621.9 512.9L1622.2 515.2L1622.5 517.5L1622.9 519.9L1623.2 522.2L1623.5 524.6L1623.8 526.9L1624.1 529.3L1624.4 531.6L1624.8 534.0L1625.1 536.3L1625.4 538.7L1625.7 541.1L1626.0 543.4L1626.3 545.8L1626.6 548.2L1626.9 550.6L1627.2 553.0L1627.5 555.4L1627.8 557.7L1628.2 560.1L1628.5 562.4L1628.8 564.7L1629.2 567.0L1629.6 569.6L1630.0 572.2L1630.3 574.9L1630.7 577.5L1631.1 580.1L1631.5 582.6L1632.0 585.1L1632.6 587.4L1633.2 589.5L1633.9 591.4L1635.0 593.9L1636.3 596.4L1637.6 598.6L1639.1 600.1L1640.5 600.8L1642.0 600.4L1643.5 599.2L1645.1 597.4L1646.6 595.4L1648.0 593.3L1649.0 591.6L1649.9 589.7L1650.8 587.7L1651.6 585.6L1652.4 583.4L1653.2 581.1L1653.9 578.7L1654.6 576.4L1655.2 574.3L1655.8 572.2L1656.3 570.0L1656.8 567.7L1657.3 565.4L1657.8 563.1L1658.3 560.8L1658.8 558.5L1659.2 556.2L1659.7 554.0L1660.2 551.9L1660.8 549.3L1661.2 546.7L1661.7 544.0L1662.2 541.4L1662.7 538.9L1663.3 536.6L1664.0 534.7L1664.9 533.1L1666.6 531.1L1668.6 529.7L1670.6 529.3L1672.2 529.9L1673.9 531.3L1675.5 533.1L1677.1 535.0L1678.4 536.6L1679.7 538.4L1681.1 540.3L1682.3 542.3L1683.5 544.3L1684.7 546.3L1685.7 548.1L1686.7 549.9L1687.7 551.8L1688.6 553.6L1689.5 555.6L1690.3 557.6L1691.0 559.5L1691.6 561.6L1692.2 563.7L1692.8 565.9L1693.3 568.1L1693.9 570.3L1694.4 572.4L1695.0 574.5L1695.6 576.8L1696.2 579.1L1696.8 581.4L1697.5 583.6L1698.1 585.7L1698.9 587.7L1699.7 589.5L1700.9 591.7L1702.3 593.9L1703.6 595.5L1705.0 596.1L1706.3 595.5L1707.7 593.9L1708.9 591.8L1710.1 589.5L1710.8 587.9L1711.4 586.0L1711.9 583.9L1712.4 581.7L1712.8 579.4L1713.2 577.0L1713.6 574.5L1714.0 572.0L1714.4 569.5L1714.8 567.0L1715.2 564.7L1715.5 562.4L1715.8 560.0L1716.1 557.6L1716.4 555.1L1716.6 552.6L1716.9 550.1L1717.2 547.6L1717.4 545.0L1717.7 542.5L1717.9 540.0L1718.2 537.5L1718.5 535.0L1718.8 532.5L1719.1 530.0L1719.3 527.4L1719.6 524.8L1719.9 522.2L1720.2 519.6L1720.4 517.1L1720.7 514.6L1721.0 512.1L1721.3 509.7L1721.6 507.4L1722.0 505.1L1722.3 503.0L1722.8 500.2L1723.2 497.5L1723.6 495.0L1724.1 492.5L1724.7 490.2L1725.3 488.1L1726.1 486.1L1727.3 483.5L1728.8 481.1L1730.2 479.2L1731.7 478.5L1732.8 479.1L1734.0 480.5L1735.2 482.5L1736.3 484.9L1737.3 487.4L1738.3 489.8L1739.0 491.8L1739.6 493.9L1740.2 496.1L1740.6 498.5L1741.1 500.9L1741.5 503.3L1742.0 505.7L1742.5 508.1L1743.0 510.5L1743.5 512.8L1744.1 515.1L1744.6 517.4L1745.2 519.8L1745.7 522.1L1746.3 524.5L1746.9 526.8L1747.4 529.0L1748.0 531.1L1748.6 533.1L1749.4 535.8L1750.1 538.7L1750.9 541.5L1751.7 543.9L1752.5 545.6L1753.3 546.3L1754.2 545.7L1755.2 544.0L1756.2 541.7L1757.2 539.2L1758.0 536.9L1758.6 534.6L1759.0 532.0L1759.4 529.5L1759.9 527.2L1760.9 525.6L1762.9 524.8L1765.3 524.6L1767.4 523.7L1768.5 522.1L1769.3 520.0L1770.0 517.5L1770.7 514.9L1771.3 512.5L1772.2 510.5L1773.7 508.0L1775.3 505.8L1776.9 504.9L1778.2 505.5L1779.5 507.1L1780.9 509.3L1782.2 511.8L1783.4 514.3L1784.2 516.2L1785.0 518.3L1785.7 520.5L1786.3 522.8L1786.9 525.2L1787.5 527.6L1788.1 530.1L1788.6 532.6L1789.1 535.0L1789.6 537.4L1790.0 539.7L1790.4 542.2L1790.7 544.6L1791.1 547.1L1791.4 549.6L1791.8 552.1L1792.1 554.5L1792.4 557.0L1792.8 559.4L1793.2 561.7L1793.5 564.1L1793.8 566.4L1794.1 568.7L1794.5 571.1L1794.8 573.4L1795.2 575.6L1795.6 577.8L1796.1 579.9L1796.6 582.0L1797.3 584.4L1798.0 586.7L1798.8 589.0L1799.6 591.2L1800.5 593.3L1801.4 595.2L1802.3 597.1L1803.4 599.2L1804.4 601.5L1805.6 603.4L1806.7 604.9L1807.9 605.5L1809.3 604.9L1810.8 603.3L1812.3 601.2L1813.5 599.0L1814.3 597.0L1814.9 594.7L1815.4 592.2L1815.9 589.7L1816.5 587.5L1817.3 585.8L1818.7 584.0L1820.3 582.6L1822.0 582.0L1823.7 582.3L1825.6 583.2L1827.6 584.5L1829.5 585.8L1831.2 587.0L1833.0 588.4L1834.7 589.9L1836.4 591.5L1838.0 593.3L1839.2 594.9L1840.4 596.8L1841.6 598.7L1842.7 600.8L1843.9 602.9L1845.0 604.9L1846.2 606.7L1847.5 608.4L1849.0 610.1L1850.5 611.6L1852.0 613.0L1853.6 614.3L1855.2 615.6L1856.9 616.8L1858.7 617.9L1860.5 619.0L1862.4 620.0L1864.3 620.9L1866.3 621.8L1868.2 622.5L1870.4 623.3L1872.7 623.9L1875.0 624.5L1877.2 624.8L1879.5 624.9L1881.8 624.7L1884.2 624.3L1886.6 623.6L1888.8 622.7L1890.8 621.5L1892.4 620.1L1893.8 618.4L1895.0 616.5L1896.2 614.4L1897.3 612.3L1898.3 610.2L1899.2 608.2L1899.9 606.1L1900.6 604.0L1901.2 601.8L1901.8 599.6L1902.4 597.4L1903.0 595.2L1903.6 593.0L1904.2 590.7L1904.8 588.4L1905.3 586.1L1906.0 583.9L1906.8 581.9L1907.7 580.1L1909.0 578.1L1910.5 576.0L1912.2 574.3L1913.8 573.0L1915.3 572.6L1917.0 573.4L1918.6 575.3L1920.2 577.7L1921.8 580.1L1923.1 581.8L1924.3 583.6L1925.6 585.5L1926.9 587.4L1928.1 589.4L1929.4 591.4L1930.6 593.5L1931.7 595.6L1932.9 597.9L1934.1 600.2L1935.2 602.4L1936.5 604.5L1937.8 606.5L1939.2 608.4L1940.7 610.3L1942.2 612.1L1943.8 613.8L1945.5 615.4L1947.2 616.8L1949.0 618.1L1950.8 619.4L1952.8 620.6L1954.7 621.6L1956.6 622.3L1958.5 622.5L1960.5 622.2L1962.5 621.6L1964.5 620.5L1966.3 619.2L1967.9 617.8L1969.1 616.2L1970.1 614.2L1970.9 612.0L1971.7 609.9L1972.6 608.0L1973.6 606.5L1975.1 605.0L1976.8 603.9L1978.3 603.7L1979.6 604.5L1980.7 606.2L1981.9 608.2L1983.0 610.2L1984.2 612.4L1985.3 614.7L1986.4 616.9L1987.7 618.7L1989.2 620.1L1990.8 621.2L1992.4 621.5L1993.9 620.5L1995.4 618.6L1996.7 616.2L1998.0 614.0L1999.0 611.8L1999.9 609.4L2000.8 607.2L2001.8 605.5L2003.6 603.8L2005.6 603.1L2007.4 603.7L2009.3 605.1L2011.2 606.5L2013.1 607.6L2015.1 608.8L2016.9 610.2L2018.3 611.9L2019.7 614.0L2021.0 616.1L2022.5 617.8L2024.1 618.9L2025.8 619.7L2027.5 620.5L2029.1 621.5L2030.8 623.3L2032.2 625.4L2033.8 627.2L2035.6 628.8L2037.5 630.3L2039.4 630.9L2041.1 630.5L2042.7 629.5L2044.1 628.1L2045.2 625.8L2046.0 623.0L2047.0 621.5L2048.4 622.0L2050.1 623.6L2051.7 625.3L2052.9 626.9L2053.9 628.7L2055.0 630.5L2056.4 631.9L2058.0 632.8L2059.8 633.4L2061.8 633.9L2063.9 634.3L2065.9 634.7L2068.0 635.0L2070.3 635.2L2072.6 635.4L2074.9 635.5L2077.1 635.6L2079.5 635.7L2081.8 635.7L2084.1 635.6L2086.3 635.3L2088.4 634.7L2090.3 633.7L2092.2 632.4L2093.9 630.9L2095.4 629.2L2096.8 627.2L2097.7 625.5L2098.5 623.6L2099.1 621.6L2099.6 619.4L2100.1 617.1L2100.6 614.8L2101.0 612.5L2101.5 610.2L2101.9 608.1L2102.4 605.9L2102.7 603.8L2103.1 601.5L2103.5 599.3L2103.8 597.0L2104.2 594.7L2104.5 592.4L2104.9 590.0L2105.3 587.7L2105.7 585.4L2106.1 583.0L2106.5 580.6L2106.9 578.2L2107.4 575.7L2107.8 573.3L2108.2 570.8L2108.7 568.4L2109.1 566.0L2109.6 563.6L2110.0 561.3L2110.5 558.9L2110.9 556.6L2111.4 554.2L2111.9 551.9L2112.3 549.6L2112.8 547.3L2113.3 545.1L2113.8 542.9L2114.2 540.8L2114.7 538.7L2115.2 536.3L2115.7 533.8L2116.1 531.4L2116.6 529.1L2117.1 527.0L2117.8 525.1L2118.5 523.7L2120.3 521.6L2122.2 520.9L2123.1 521.7L2123.9 523.5L2124.6 525.8L2125.4 528.4L2126.1 530.9L2126.9 533.1L2127.8 535.4L2128.7 537.8L2129.6 540.1L2130.6 541.8L2131.6 542.5L2133.0 541.9L2134.5 540.1L2136.0 537.6L2137.3 535.0L2138.0 533.2L2138.5 531.3L2139.0 529.1L2139.4 526.8L2139.7 524.4L2140.0 522.0L2140.3 519.4L2140.6 516.9L2141.0 514.3L2141.3 512.1L2141.6 509.8L2141.9 507.4L2142.2 505.0L2142.4 502.5L2142.7 500.0L2143.0 497.5L2143.2 494.9L2143.5 492.4L2143.8 489.8L2144.1 487.3L2144.5 484.8L2144.8 482.3L2145.2 479.8L2145.5 477.3L2145.9 474.8L2146.3 472.2L2146.8 469.7L2147.2 467.1L2147.6 464.6L2148.1 462.1L2148.5 459.6L2149.0 457.2L2149.4 454.8L2149.9 452.5L2150.4 450.3L2151.0 447.7L2151.5 445.0L2152.1 442.4L2152.6 439.8L2153.2 437.3L2153.9 435.0L2154.5 432.9L2155.3 431.1L2156.1 429.6L2157.6 427.6L2159.3 426.2L2160.8 425.8L2161.9 426.5L2162.9 428.1L2163.8 430.3L2164.7 432.8L2165.5 435.3L2166.0 437.1L2166.4 439.1L2166.8 441.2L2167.2 443.5L2167.5 445.9L2167.8 448.4L2168.0 451.0L2168.3 453.5L2168.5 456.1L2168.8 458.6L2169.0 461.1L2169.3 463.5L2169.6 465.9L2169.8 468.3L2170.0 470.8L2170.3 473.2L2170.5 475.7L2170.7 478.2L2170.9 480.6L2171.1 483.0L2171.3 485.3L2171.6 487.5L2171.8 489.7L2172.1 491.7L2172.5 494.4L2172.8 497.2L2173.2 500.0L2173.6 502.6L2174.0 504.7L2174.4 506.1L2174.9 506.7L2175.6 506.0L2176.4 504.1L2177.2 501.4L2178.0 498.4L2178.7 495.5L2179.1 493.5L2179.4 491.4L2179.7 489.1L2179.9 486.7L2180.1 484.3L2180.3 481.7L2180.5 479.2L2180.7 476.6L2180.9 474.0L2181.2 471.5L2181.5 469.1L2181.9 466.7L2182.2 464.3L2182.6 461.9L2183.0 459.5L2183.4 457.1L2183.9 454.7L2184.3 452.3L2184.8 449.9L2185.3 447.5L2185.7 445.2L2186.2 442.8L2186.7 440.5L2187.1 438.2L2187.6 436.0L2188.1 433.7L2188.6 431.4L2189.1 429.1L2189.7 426.9L2190.2 424.7L2190.7 422.5L2191.3 420.4L2191.8 418.3L2192.4 415.8L2193.1 413.2L2193.7 410.7L2194.3 408.2L2195.0 405.8L2195.7 403.5L2196.6 401.4L2197.5 399.5L2198.8 397.2L2200.3 395.0L2201.9 393.0L2203.5 391.6L2205.0 391.0L2206.7 391.5L2208.5 392.8L2210.2 394.7L2211.6 396.5L2212.7 398.4L2213.4 400.5L2214.1 402.7L2214.8 405.0L2215.6 407.5L2216.4 410.3L2217.2 413.1L2217.8 415.2L2218.0 416.0"/></g>
<g stroke="#c07ae4"><path id="c-purple" d="M205.0 120.5L205.7 120.6L207.6 120.7L210.2 120.9L212.9 121.2L214.6 121.4L216.5 121.6L218.5 121.9L220.7 122.1L223.1 122.4L225.6 122.7L228.1 123.1L230.7 123.4L233.4 123.7L236.2 124.1L238.9 124.4L241.6 124.8L244.3 125.1L247.0 125.4L249.3 125.7L251.6 125.9L254.0 126.2L256.4 126.4L258.8 126.7L261.3 126.9L263.8 127.2L266.3 127.4L268.8 127.7L271.3 128.0L273.8 128.2L276.4 128.5L278.9 128.8L281.5 129.0L284.0 129.3L286.5 129.6L289.0 129.9L291.5 130.3L294.0 130.6L296.4 130.9L298.8 131.3L301.2 131.6L303.7 132.0L306.1 132.3L308.6 132.7L311.1 133.1L313.6 133.4L316.1 133.8L318.5 134.2L321.0 134.6L323.4 135.0L325.8 135.4L328.1 135.8L330.4 136.2L332.7 136.6L334.8 137.0L337.0 137.5L339.0 137.9L341.0 138.3L343.7 138.9L346.3 139.5L348.7 140.1L351.1 140.7L353.3 141.3L355.6 142.0L357.8 142.6L360.0 143.3L362.3 144.0L364.6 144.7L367.0 145.4L369.4 146.2L371.8 146.9L374.2 147.7L376.6 148.5L379.0 149.3L381.4 150.2L383.6 151.1L385.9 152.0L388.0 153.0L390.3 154.1L392.5 155.3L394.7 156.5L396.7 157.7L398.8 159.1L400.8 160.4L402.7 161.9L404.6 163.5L406.3 165.1L408.0 166.7L409.7 168.4L411.3 170.2L412.8 172.0L414.4 174.0L415.8 175.9L417.3 177.9L418.7 180.0L419.9 181.9L421.1 183.9L422.2 185.9L423.3 188.0L424.4 190.2L425.4 192.3L426.5 194.5L427.5 196.8L428.5 199.0L429.5 201.2L430.5 203.5L431.4 205.6L432.3 207.7L433.2 209.8L434.0 212.0L434.9 214.2L435.7 216.4L436.6 218.6L437.4 220.9L438.3 223.1L439.2 225.3L440.1 227.4L441.0 229.6L442.0 231.7L443.1 233.9L444.2 236.1L445.3 238.3L446.4 240.5L447.5 242.7L448.7 244.8L449.9 246.9L451.1 249.1L452.3 251.2L453.5 253.3L454.7 255.5L456.0 257.6L457.2 259.6L458.4 261.6L459.6 263.7L460.9 265.7L462.1 267.7L463.4 269.8L464.7 271.8L466.0 273.8L467.3 275.8L468.7 277.7L470.0 279.6L471.4 281.5L472.8 283.4L474.3 285.3L475.7 287.2L477.2 289.1L478.7 291.0L480.2 292.8L481.7 294.6L483.3 296.4L484.9 298.2L486.5 299.9L488.1 301.5L489.8 303.1L491.6 304.6L493.5 306.2L495.5 307.6L497.6 309.1L499.6 310.5L501.8 311.8L503.9 313.1L506.1 314.3L508.3 315.5L510.5 316.6L512.8 317.7L515.0 318.7L517.3 319.7L519.6 320.6L521.9 321.4L524.2 322.2L526.6 323.0L529.0 323.7L531.4 324.4L533.8 325.1L536.2 325.7L538.6 326.4L541.0 327.0L543.3 327.6L545.7 328.2L548.0 328.8L550.4 329.4L552.7 330.0L555.1 330.5L557.4 331.0L559.8 331.5L562.2 332.0L564.6 332.4L567.0 332.8L569.3 333.1L571.6 333.4L573.9 333.7L576.2 334.0L578.6 334.2L580.9 334.4L583.3 334.6L585.6 334.7L588.0 334.9L590.3 335.0L592.7 335.1L595.0 335.2L597.3 335.3L599.7 335.3L602.0 335.3L604.4 335.3L606.8 335.3L609.1 335.3L611.5 335.2L613.8 335.1L616.2 335.0L618.5 334.9L620.7 334.8L623.0 334.7L625.5 334.5L627.9 334.4L630.3 334.2L632.7 333.9L635.1 333.7L637.5 333.5L639.8 333.2L642.2 332.9L644.5 332.7L646.9 332.4L649.2 332.1L651.6 331.8L653.9 331.6L656.2 331.3L658.5 331.0L660.8 330.7L663.2 330.3L665.5 330.0L667.9 329.7L670.4 329.3L672.7 329.0L675.1 328.6L677.5 328.3L679.9 328.0L682.4 327.6L684.8 327.3L687.3 326.9L689.8 326.5L692.4 326.1L694.9 325.6L697.4 325.1L700.0 324.6L702.3 324.1L704.6 323.6L706.9 323.1L709.2 322.5L711.6 321.9L713.9 321.3L716.3 320.7L718.7 320.1L721.1 319.4L723.5 318.7L725.9 318.1L728.2 317.4L730.6 316.7L733.0 315.9L735.3 315.2L737.5 314.5L739.8 313.7L742.1 312.9L744.3 312.1L746.6 311.3L748.9 310.5L751.2 309.6L753.4 308.8L755.7 307.9L757.9 307.1L760.1 306.2L762.3 305.4L764.4 304.6L766.5 303.8L768.6 303.0L770.6 302.3L773.1 301.4L775.6 300.6L778.0 299.8L780.3 299.0L782.6 298.3L784.9 297.5L787.2 296.7L789.4 295.9L791.7 295.0L794.0 294.0L796.2 293.0L798.4 291.8L800.6 290.6L802.9 289.3L805.1 288.1L807.3 286.8L809.5 285.5L811.6 284.2L813.7 283.1L815.7 282.0L817.6 281.0L819.8 280.0L821.8 279.0L823.8 278.0L825.8 277.2L827.7 276.4L829.7 275.8L831.7 275.2L834.0 274.7L836.3 274.3L838.7 274.1L841.0 274.0L843.4 273.9L845.8 274.0L848.1 274.1L850.6 274.3L853.1 274.6L855.6 275.0L858.0 275.5L860.2 276.1L862.3 276.9L864.5 278.2L866.4 279.7L868.2 281.4L869.9 283.1L871.7 284.6L873.4 286.0L875.0 287.6L876.7 289.1L878.3 290.1L879.9 290.5L881.5 289.9L883.1 288.5L884.7 286.7L886.4 284.9L888.1 283.4L889.9 282.4L891.7 281.4L893.6 280.6L895.5 279.9L897.6 279.2L899.8 278.7L902.2 278.4L904.8 278.2L907.2 277.9L909.6 277.3L911.7 276.4L913.3 275.2L914.6 273.6L915.8 271.8L917.0 269.9L918.2 268.0L919.5 266.2L921.0 264.6L922.8 263.2L924.6 262.0L926.6 260.8L928.6 259.8L930.7 258.7L932.9 257.6L935.2 256.4L937.1 255.4L939.1 254.3L941.1 253.1L943.2 251.9L945.4 250.7L947.6 249.6L949.8 248.4L952.0 247.4L954.3 246.3L956.5 245.4L958.7 244.6L961.0 243.9L963.3 243.2L965.6 242.6L967.9 242.1L970.2 241.7L972.5 241.3L974.9 240.9L977.3 240.6L979.7 240.2L982.2 239.9L984.4 239.6L986.7 239.4L989.0 239.3L991.4 239.2L993.7 239.1L996.2 239.0L998.6 239.0L1001.0 238.9L1003.4 238.7L1005.8 238.6L1008.2 238.3L1010.5 238.0L1012.8 237.6L1015.2 237.1L1017.6 236.5L1019.9 235.8L1022.2 235.1L1024.5 234.3L1026.8 233.5L1029.1 232.6L1031.4 231.7L1033.8 230.9L1036.1 230.0L1038.6 229.1L1041.0 228.2L1043.1 227.4L1045.3 226.7L1047.4 225.8L1049.6 225.0L1051.9 224.1L1054.1 223.3L1056.4 222.4L1058.6 221.5L1060.9 220.7L1063.1 219.8L1065.4 219.0L1067.6 218.1L1069.8 217.3L1072.0 216.6L1074.2 215.9L1076.3 215.2L1078.7 214.5L1081.1 213.9L1083.5 213.3L1085.9 212.7L1088.2 212.2L1090.5 211.8L1092.9 211.3L1095.2 210.8L1097.5 210.2L1099.8 209.6L1102.1 208.9L1104.5 208.2L1106.7 207.4L1108.8 206.6L1111.0 205.8L1113.1 204.8L1115.2 203.9L1117.4 202.9L1119.6 201.9L1121.7 200.9L1123.9 199.9L1126.1 198.9L1128.3 198.0L1130.5 197.0L1132.7 196.1L1135.0 195.2L1137.3 194.4L1139.6 193.5L1141.9 192.7L1144.3 191.9L1146.7 191.1L1149.1 190.3L1151.5 189.5L1153.9 188.8L1156.3 188.0L1158.7 187.2L1161.1 186.5L1163.5 185.7L1165.8 185.0L1168.1 184.2L1170.4 183.5L1172.8 182.7L1175.1 181.9L1177.5 181.2L1179.8 180.4L1182.1 179.7L1184.4 178.9L1186.7 178.2L1189.0 177.4L1191.2 176.7L1193.5 176.0L1195.7 175.2L1197.8 174.5L1200.0 173.8L1202.5 173.0L1204.9 172.2L1207.3 171.3L1209.6 170.5L1211.9 169.7L1214.2 168.9L1216.5 168.1L1218.8 167.4L1221.2 166.6L1223.5 165.8L1225.8 165.0L1228.2 164.3L1230.5 163.5L1232.9 162.7L1235.2 162.0L1237.6 161.2L1239.9 160.5L1242.3 159.7L1244.6 159.0L1247.0 158.3L1249.3 157.6L1251.6 156.9L1253.9 156.2L1256.2 155.5L1258.5 154.8L1260.8 154.2L1263.1 153.5L1265.6 152.9L1268.0 152.3L1270.6 151.7L1272.7 151.2L1274.9 150.8L1277.2 150.3L1279.5 149.9L1281.8 149.4L1284.1 149.0L1286.5 148.6L1288.9 148.2L1291.3 147.8L1293.8 147.4L1296.2 147.1L1298.6 146.7L1301.0 146.4L1303.4 146.1L1305.8 145.8L1308.2 145.5L1310.5 145.3L1313.0 145.0L1315.4 144.8L1317.8 144.6L1320.2 144.4L1322.7 144.2L1325.1 144.1L1327.5 143.9L1329.9 143.8L1332.2 143.7L1334.5 143.6L1336.7 143.6L1339.0 143.5L1341.1 143.5L1343.6 143.5L1346.0 143.6L1348.4 143.8L1350.6 144.0L1352.9 144.3L1355.1 144.5L1357.4 144.6L1359.7 144.8L1362.1 144.8L1364.6 144.7L1366.8 144.5L1369.0 144.3L1371.2 144.0L1373.5 143.7L1375.8 143.3L1378.2 142.9L1380.6 142.5L1383.0 142.0L1385.4 141.6L1387.9 141.1L1390.3 140.6L1392.7 140.1L1395.1 139.6L1397.5 139.2L1399.9 138.8L1402.3 138.4L1404.7 138.0L1407.1 137.6L1409.5 137.3L1411.9 136.9L1414.4 136.5L1416.8 136.1L1419.2 135.7L1421.6 135.4L1424.0 135.0L1426.3 134.6L1428.6 134.2L1430.9 133.8L1433.1 133.3L1435.2 132.9L1437.7 132.3L1440.1 131.8L1442.5 131.1L1444.7 130.5L1446.9 129.9L1449.2 129.3L1451.4 128.7L1453.8 128.1L1456.2 127.5L1458.7 127.0L1460.8 126.6L1463.0 126.2L1465.3 125.8L1467.6 125.4L1469.9 125.1L1472.3 124.7L1474.7 124.4L1477.1 124.1L1479.5 123.8L1481.9 123.5L1484.4 123.2L1486.8 122.9L1489.2 122.7L1491.6 122.5L1494.0 122.3L1496.4 122.1L1498.7 122.0L1501.1 121.9L1503.5 121.8L1505.9 121.7L1508.3 121.6L1510.7 121.6L1513.1 121.5L1515.5 121.5L1517.8 121.5L1520.2 121.5L1522.5 121.5L1524.8 121.5L1527.1 121.6L1529.3 121.6L1531.8 121.6L1534.3 121.7L1536.7 121.7L1539.2 121.8L1541.6 121.9L1544.0 121.9L1546.3 122.1L1548.7 122.2L1550.9 122.3L1553.2 122.5L1555.4 122.7L1557.5 123.0L1560.1 123.3L1562.6 123.7L1565.0 124.1L1567.4 124.5L1569.7 125.0L1572.0 125.6L1574.2 126.2L1576.3 127.0L1578.5 127.9L1580.7 128.9L1582.8 130.0L1584.8 131.2L1586.8 132.5L1588.6 133.8L1590.4 135.3L1592.0 136.8L1593.5 138.5L1594.9 140.3L1596.2 142.1L1597.5 144.0L1598.8 145.8L1600.0 147.7L1601.2 149.5L1602.3 151.3L1603.4 153.1L1604.5 155.0L1605.5 156.9L1606.5 158.8L1607.5 160.9L1608.4 163.0L1609.3 165.3L1610.2 167.6L1611.1 169.9L1611.9 172.3L1612.7 174.8L1613.4 177.2L1614.1 179.7L1614.7 181.8L1615.2 184.0L1615.7 186.2L1616.2 188.4L1616.6 190.7L1617.1 193.0L1617.5 195.3L1617.9 197.6L1618.4 199.9L1618.8 202.3L1619.2 204.5L1619.6 206.8L1620.0 209.1L1620.4 211.5L1620.8 213.9L1621.2 216.3L1621.6 218.7L1621.9 221.1L1622.3 223.4L1622.7 225.8L1623.1 228.2L1623.5 230.5L1623.9 232.9L1624.3 235.4L1624.7 237.8L1625.1 240.2L1625.6 242.6L1626.0 245.0L1626.4 247.4L1626.8 249.8L1627.3 252.2L1627.7 254.5L1628.2 256.9L1628.7 259.2L1629.1 261.6L1629.5 264.0L1630.0 266.4L1630.4 268.8L1630.9 271.1L1631.4 273.4L1632.0 275.6L1632.6 277.6L1633.2 279.6L1633.9 281.3L1635.1 283.8L1636.3 286.3L1637.7 288.5L1639.1 290.0L1640.5 290.7L1642.0 290.3L1643.5 289.1L1645.1 287.3L1646.6 285.3L1648.0 283.2L1649.0 281.5L1649.9 279.6L1650.8 277.6L1651.6 275.4L1652.4 273.2L1653.1 270.9L1653.9 268.6L1654.6 266.3L1655.2 264.2L1655.8 262.0L1656.4 259.8L1657.0 257.6L1657.5 255.3L1658.1 253.0L1658.6 250.7L1659.1 248.3L1659.7 246.0L1660.2 243.7L1660.7 241.5L1661.2 239.1L1661.6 236.8L1662.0 234.4L1662.5 232.0L1662.9 229.6L1663.4 227.3L1663.9 225.1L1664.5 223.0L1665.2 221.0L1665.9 219.2L1667.0 216.9L1668.1 214.6L1669.4 212.5L1670.7 210.7L1672.1 209.5L1673.4 208.9L1675.3 209.4L1677.2 211.0L1679.1 213.2L1680.9 215.5L1682.1 217.2L1683.3 219.1L1684.4 221.2L1685.5 223.4L1686.5 225.7L1687.5 228.1L1688.4 230.5L1689.1 232.5L1689.8 234.7L1690.4 236.9L1690.9 239.2L1691.5 241.5L1692.0 243.9L1692.5 246.2L1693.0 248.6L1693.5 250.9L1694.1 253.1L1694.7 255.5L1695.3 258.0L1695.8 260.5L1696.4 263.0L1697.0 265.4L1697.6 267.8L1698.2 270.0L1698.9 272.0L1699.7 273.8L1701.0 276.4L1702.5 278.8L1703.9 280.6L1705.4 281.3L1706.9 280.6L1708.3 278.8L1709.7 276.4L1711.0 273.8L1711.7 272.0L1712.3 269.9L1712.8 267.7L1713.3 265.3L1713.7 262.8L1714.1 260.1L1714.5 257.4L1714.9 254.7L1715.3 252.0L1715.7 249.3L1716.1 247.0L1716.4 244.7L1716.8 242.3L1717.1 239.9L1717.4 237.5L1717.7 235.0L1718.1 232.5L1718.4 230.0L1718.7 227.5L1719.0 225.0L1719.4 222.6L1719.7 220.2L1720.0 217.8L1720.4 215.5L1720.8 212.9L1721.1 210.3L1721.5 207.7L1721.8 205.1L1722.2 202.5L1722.5 200.0L1722.9 197.6L1723.4 195.2L1723.9 193.0L1724.4 191.0L1725.1 189.1L1726.2 186.3L1727.5 183.6L1728.9 181.2L1730.3 179.5L1731.7 178.8L1733.0 179.3L1734.4 180.6L1735.8 182.6L1737.1 184.9L1738.3 187.2L1739.1 189.0L1739.9 191.0L1740.6 193.2L1741.2 195.5L1741.9 197.9L1742.5 200.3L1743.1 202.8L1743.7 205.2L1744.3 207.6L1744.9 209.8L1745.6 212.3L1746.3 214.9L1747.0 217.5L1747.7 220.0L1748.3 222.5L1749.0 224.8L1749.8 226.8L1750.5 228.6L1751.7 231.2L1753.0 233.4L1754.3 234.3L1755.3 233.6L1756.3 231.9L1757.3 229.6L1758.2 227.1L1759.0 224.9L1759.7 222.4L1760.2 219.7L1760.8 217.3L1761.8 215.5L1763.5 214.7L1765.6 214.4L1767.4 213.6L1768.4 212.1L1769.3 210.0L1770.0 207.6L1770.6 205.0L1771.3 202.5L1772.2 200.4L1773.2 198.3L1774.3 196.1L1775.4 194.1L1776.6 192.6L1777.8 192.0L1779.1 192.5L1780.5 193.8L1781.9 195.8L1783.2 198.1L1784.4 200.4L1785.2 202.2L1785.9 204.1L1786.5 206.2L1787.1 208.5L1787.6 210.8L1788.1 213.2L1788.6 215.7L1789.1 218.2L1789.5 220.6L1790.0 223.0L1790.4 225.3L1790.8 227.7L1791.1 230.1L1791.4 232.5L1791.7 235.0L1792.0 237.5L1792.3 239.9L1792.6 242.3L1793.0 244.7L1793.4 247.0L1793.8 249.3L1794.3 251.8L1794.8 254.2L1795.4 256.6L1795.9 259.0L1796.5 261.3L1797.2 263.6L1797.9 265.8L1798.6 268.0L1799.4 270.0L1800.4 272.3L1801.4 274.8L1802.5 277.3L1803.7 279.6L1804.8 281.5L1805.9 282.7L1807.0 283.2L1808.2 282.6L1809.4 281.0L1810.5 278.8L1811.6 276.3L1812.6 273.8L1813.3 271.8L1813.8 269.6L1814.3 267.2L1814.8 264.7L1815.2 262.2L1815.7 259.7L1816.2 257.3L1816.7 255.1L1817.3 253.1L1818.1 250.7L1819.0 248.2L1819.9 246.0L1820.9 244.4L1822.0 243.7L1823.3 244.0L1824.8 245.3L1826.4 247.1L1828.0 249.2L1829.5 251.2L1830.7 252.9L1831.9 254.8L1833.1 256.8L1834.3 259.0L1835.5 261.2L1836.7 263.5L1837.8 265.8L1839.0 268.1L1840.0 270.2L1841.1 272.5L1842.0 274.8L1843.0 277.2L1844.0 279.6L1845.0 282.0L1846.0 284.3L1847.1 286.6L1848.2 288.7L1849.4 290.7L1850.9 292.9L1852.4 295.0L1854.0 296.9L1855.6 298.8L1857.3 300.6L1859.0 302.3L1860.7 303.9L1862.5 305.6L1864.3 307.2L1866.2 308.7L1868.1 310.1L1870.0 311.3L1872.0 312.4L1874.2 313.4L1876.5 314.2L1878.8 314.9L1881.1 315.2L1883.3 315.2L1885.3 314.8L1887.3 314.2L1889.3 313.3L1891.1 312.0L1892.7 310.5L1893.9 308.9L1894.9 307.0L1895.8 304.9L1896.5 302.6L1897.2 300.1L1897.9 297.6L1898.6 295.1L1899.3 292.6L1899.9 290.5L1900.4 288.3L1901.0 286.1L1901.5 283.7L1902.0 281.4L1902.4 279.1L1902.9 276.7L1903.4 274.5L1903.9 272.2L1904.4 270.1L1904.9 268.1L1905.5 265.7L1906.1 263.3L1906.7 261.0L1907.3 258.8L1908.0 256.8L1908.7 254.8L1909.6 253.1L1910.9 250.9L1912.3 248.8L1913.8 247.2L1915.3 246.5L1916.7 247.0L1918.1 248.4L1919.5 250.3L1920.9 252.2L1922.0 253.8L1923.1 255.6L1924.2 257.6L1925.3 259.7L1926.3 261.9L1927.4 264.1L1928.4 266.3L1929.3 268.3L1930.1 270.3L1931.0 272.4L1931.8 274.6L1932.6 276.7L1933.4 278.9L1934.3 281.0L1935.1 283.1L1936.0 285.1L1937.0 287.4L1938.0 289.6L1939.1 291.8L1940.1 293.9L1941.2 296.0L1942.3 298.1L1943.5 300.1L1944.7 302.0L1946.0 304.0L1947.3 305.9L1948.6 307.8L1950.0 309.5L1951.5 311.1L1952.9 312.4L1955.0 314.0L1957.1 315.5L1959.3 316.4L1961.4 316.7L1963.4 316.2L1965.4 315.0L1967.2 313.3L1968.9 311.4L1970.0 309.7L1970.9 307.7L1971.6 305.5L1972.4 303.1L1973.0 300.7L1973.7 298.5L1974.5 296.4L1975.4 294.1L1976.3 291.7L1977.2 289.5L1978.2 287.6L1979.2 286.0L1981.0 284.0L1983.0 283.2L1984.3 284.0L1985.7 285.7L1987.1 287.5L1988.6 288.8L1991.0 289.9L1993.3 289.8L1994.5 288.7L1995.5 286.8L1996.4 284.5L1997.2 281.9L1998.0 279.4L1998.6 277.1L1999.1 274.6L1999.6 271.9L2000.1 269.2L2000.5 266.6L2001.1 264.4L2001.8 262.5L2002.9 260.3L2004.2 258.6L2005.6 257.8L2006.9 258.4L2008.3 260.0L2009.7 261.8L2011.2 263.4L2013.1 264.6L2015.1 265.6L2016.9 267.2L2017.9 268.9L2018.8 271.0L2019.5 273.4L2020.2 275.9L2021.0 278.5L2021.7 281.0L2022.5 283.2L2023.4 285.2L2024.3 287.1L2025.3 288.9L2026.2 290.7L2027.2 292.5L2028.1 294.5L2028.9 296.6L2029.7 298.8L2030.5 301.1L2031.3 303.4L2032.1 305.6L2032.9 307.7L2033.8 309.5L2034.9 311.7L2036.1 313.7L2037.3 315.3L2038.5 316.1L2040.5 315.4L2042.3 313.3L2043.0 311.6L2043.4 309.3L2043.8 306.5L2044.0 303.7L2044.3 300.9L2044.6 298.4L2045.1 296.4L2046.0 294.2L2046.9 292.4L2047.9 291.7L2048.8 292.6L2049.8 294.6L2050.8 297.4L2051.7 300.1L2052.3 302.1L2052.9 304.4L2053.4 306.9L2053.9 309.5L2054.4 312.1L2055.0 314.6L2055.7 316.9L2056.4 319.0L2057.4 321.2L2058.4 323.2L2059.5 325.1L2060.7 326.8L2062.0 328.4L2063.7 330.0L2065.6 331.3L2067.6 332.6L2069.5 334.0L2071.1 335.5L2072.6 337.2L2074.2 338.8L2075.8 340.1L2077.4 340.6L2079.2 340.2L2081.1 339.2L2083.0 337.7L2084.8 335.9L2086.5 334.0L2087.8 332.3L2089.0 330.4L2090.1 328.4L2091.2 326.2L2092.2 323.9L2093.1 321.5L2094.0 319.0L2094.7 316.9L2095.3 314.7L2095.9 312.4L2096.4 310.0L2096.9 307.5L2097.4 305.0L2097.9 302.5L2098.3 300.0L2098.7 297.5L2099.2 295.0L2099.6 292.6L2100.0 290.1L2100.4 287.7L2100.8 285.2L2101.2 282.8L2101.5 280.3L2101.8 277.9L2102.2 275.5L2102.6 273.0L2103.0 270.6L2103.4 268.1L2103.8 265.7L2104.3 263.3L2104.8 260.9L2105.3 258.5L2105.8 256.1L2106.3 253.7L2106.9 251.2L2107.4 248.8L2107.9 246.5L2108.5 244.1L2109.0 241.8L2109.5 239.4L2110.1 237.0L2110.6 234.6L2111.1 232.2L2111.7 229.9L2112.2 227.6L2112.8 225.3L2113.4 223.2L2114.0 221.1L2114.7 219.2L2115.5 216.9L2116.4 214.6L2117.2 212.4L2118.1 210.5L2119.2 208.9L2120.3 207.9L2122.1 207.3L2124.1 207.4L2126.0 207.9L2127.7 209.0L2129.4 210.6L2131.0 212.1L2132.6 212.6L2134.1 211.9L2135.6 210.4L2137.0 208.4L2138.2 206.1L2138.9 204.4L2139.4 202.4L2139.9 200.1L2140.3 197.8L2140.6 195.3L2140.9 192.8L2141.2 190.2L2141.6 187.8L2142.0 185.4L2142.5 183.1L2142.9 180.7L2143.4 178.3L2143.9 175.9L2144.4 173.5L2144.9 171.2L2145.5 168.9L2146.1 166.7L2146.7 164.7L2147.5 162.3L2148.3 160.0L2149.2 157.8L2150.1 155.7L2151.1 153.9L2152.3 152.4L2153.8 150.9L2155.6 149.6L2157.3 148.8L2158.9 148.7L2160.2 149.4L2161.4 150.9L2162.6 152.8L2163.6 154.9L2164.6 157.1L2165.4 159.1L2166.0 161.4L2166.6 163.8L2167.1 166.4L2167.6 168.9L2168.1 171.4L2168.7 173.8L2169.3 176.0L2170.2 178.8L2171.1 181.8L2172.0 184.4L2173.0 186.4L2174.0 187.2L2175.2 186.6L2176.4 184.8L2177.6 182.3L2178.7 179.7L2179.3 177.8L2179.7 175.7L2180.1 173.3L2180.4 170.7L2180.6 168.0L2180.9 165.3L2181.2 162.6L2181.5 160.0L2181.9 157.6L2182.4 155.3L2183.1 152.9L2183.7 150.6L2184.5 148.4L2185.2 146.2L2186.1 144.2L2187.0 142.1L2188.1 140.2L2189.4 138.1L2190.9 136.1L2192.5 134.2L2194.1 132.3L2195.8 130.6L2197.5 128.9L2199.3 127.0L2201.2 125.1L2203.1 123.3L2205.0 122.0L2206.9 121.4L2208.8 121.7L2210.7 122.6L2212.6 123.9L2214.4 125.2L2216.4 126.8L2218.6 128.7L2220.3 130.3L2221.0 131.0"/></g>
</g>
<line x1="501.5" y1="131" x2="611" y2="131" stroke="#515151" stroke-width="10" stroke-linecap="round"/>
<line x1="792.3" y1="131" x2="902.2" y2="131" stroke="#0070e0" stroke-width="10" stroke-linecap="round"/>
<line x1="1024.2" y1="131" x2="1134.8" y2="131" stroke="#00b068" stroke-width="10" stroke-linecap="round"/>
<line x1="501.5" y1="192.3" x2="611" y2="192.3" stroke="#ff3a3e" stroke-width="10" stroke-linecap="round"/>
<line x1="700.5" y1="192.3" x2="809.8" y2="192.3" stroke="#c07ae4" stroke-width="10" stroke-linecap="round"/>
<g font-family="Liberation Sans, Arial, Helvetica, sans-serif" font-weight="bold" fill="#000" style="font-kerning:none" text-rendering="geometricPrecision">
<text transform="translate(783.0 87.4) scale(1.0 1.03)" font-size="48.0" font-style="italic">SNC/TA mass ratio</text>
<text transform="translate(625.0 146.9) scale(1.0 1.03)" font-size="48.2" >SNC</text>
<text transform="translate(916.0 146.9) scale(1.0 1.03)" font-size="48.2" >10:1</text>
<text transform="translate(1147.5 146.9) scale(1.0 1.03)" font-size="48.2" >2:1</text>
<text transform="translate(624.0 208.8) scale(1.0 1.03)" font-size="48.2" >TA</text>
<text transform="translate(823.5 208.8) scale(1.0 1.03)" font-size="48.2" >1:1</text>
<text transform="translate(2088.3 1613.8) scale(1.0 1.02)" font-size="104.0" text-anchor="middle">1000</text>
<text transform="translate(1775.6 1613.8) scale(1.0 1.02)" font-size="104.0" text-anchor="middle">1500</text>
<text transform="translate(1462.9 1613.8) scale(1.0 1.02)" font-size="104.0" text-anchor="middle">2000</text>
<text transform="translate(1150.2 1613.8) scale(1.0 1.02)" font-size="104.0" text-anchor="middle">2500</text>
<text transform="translate(837.5 1613.8) scale(1.0 1.02)" font-size="104.0" text-anchor="middle">3000</text>
<text transform="translate(524.8 1613.8) scale(1.0 1.02)" font-size="104.0" text-anchor="middle">3500</text>
<text transform="translate(212.1 1613.8) scale(1.0 1.02)" font-size="104.0" text-anchor="middle">4000</text>
<text transform="translate(545.5 1779.1) scale(1 0.99)" font-size="138.4"><tspan font-size="141.0">W</tspan><tspan x="130.6">avenumber (cm</tspan><tspan x="1148.3" y="-41.8" font-size="78.0" textLength="54.6" lengthAdjust="spacingAndGlyphs">−</tspan><tspan x="1197.6" y="-46.6" font-size="85.0">1</tspan><tspan x="1244.5" y="0">)</tspan></text>
<text transform="translate(131.0 1438.0) rotate(-90) scale(1 0.99)" font-size="138.0"><tspan font-size="140.6">T</tspan><tspan x="84.3">ransmittance </tspan><tspan x="986.0" textLength="325.1" lengthAdjust="spacingAndGlyphs">(a.u.)</tspan></text>
</g>
<rect x="365.0" y="29.0" width="272.9" height="1468.0" fill="#ff0080" fill-opacity="0.108"/>
<rect x="1588.0" y="29.0" width="79.9" height="1468.0" fill="#ff0080" fill-opacity="0.108"/>
<clipPath id="bc"><rect x="365.0" y="29.0" width="272.9" height="1468.0"/><rect x="1588.0" y="29.0" width="79.9" height="1468.0"/></clipPath>
<g clip-path="url(#bc)" fill="none" stroke-linejoin="round" stroke-linecap="round" stroke-width="11.3"><use href="#c-blue" stroke="#0562d2"/><use href="#c-green" stroke="#009d6c"/></g>
</svg>
</body></html>
